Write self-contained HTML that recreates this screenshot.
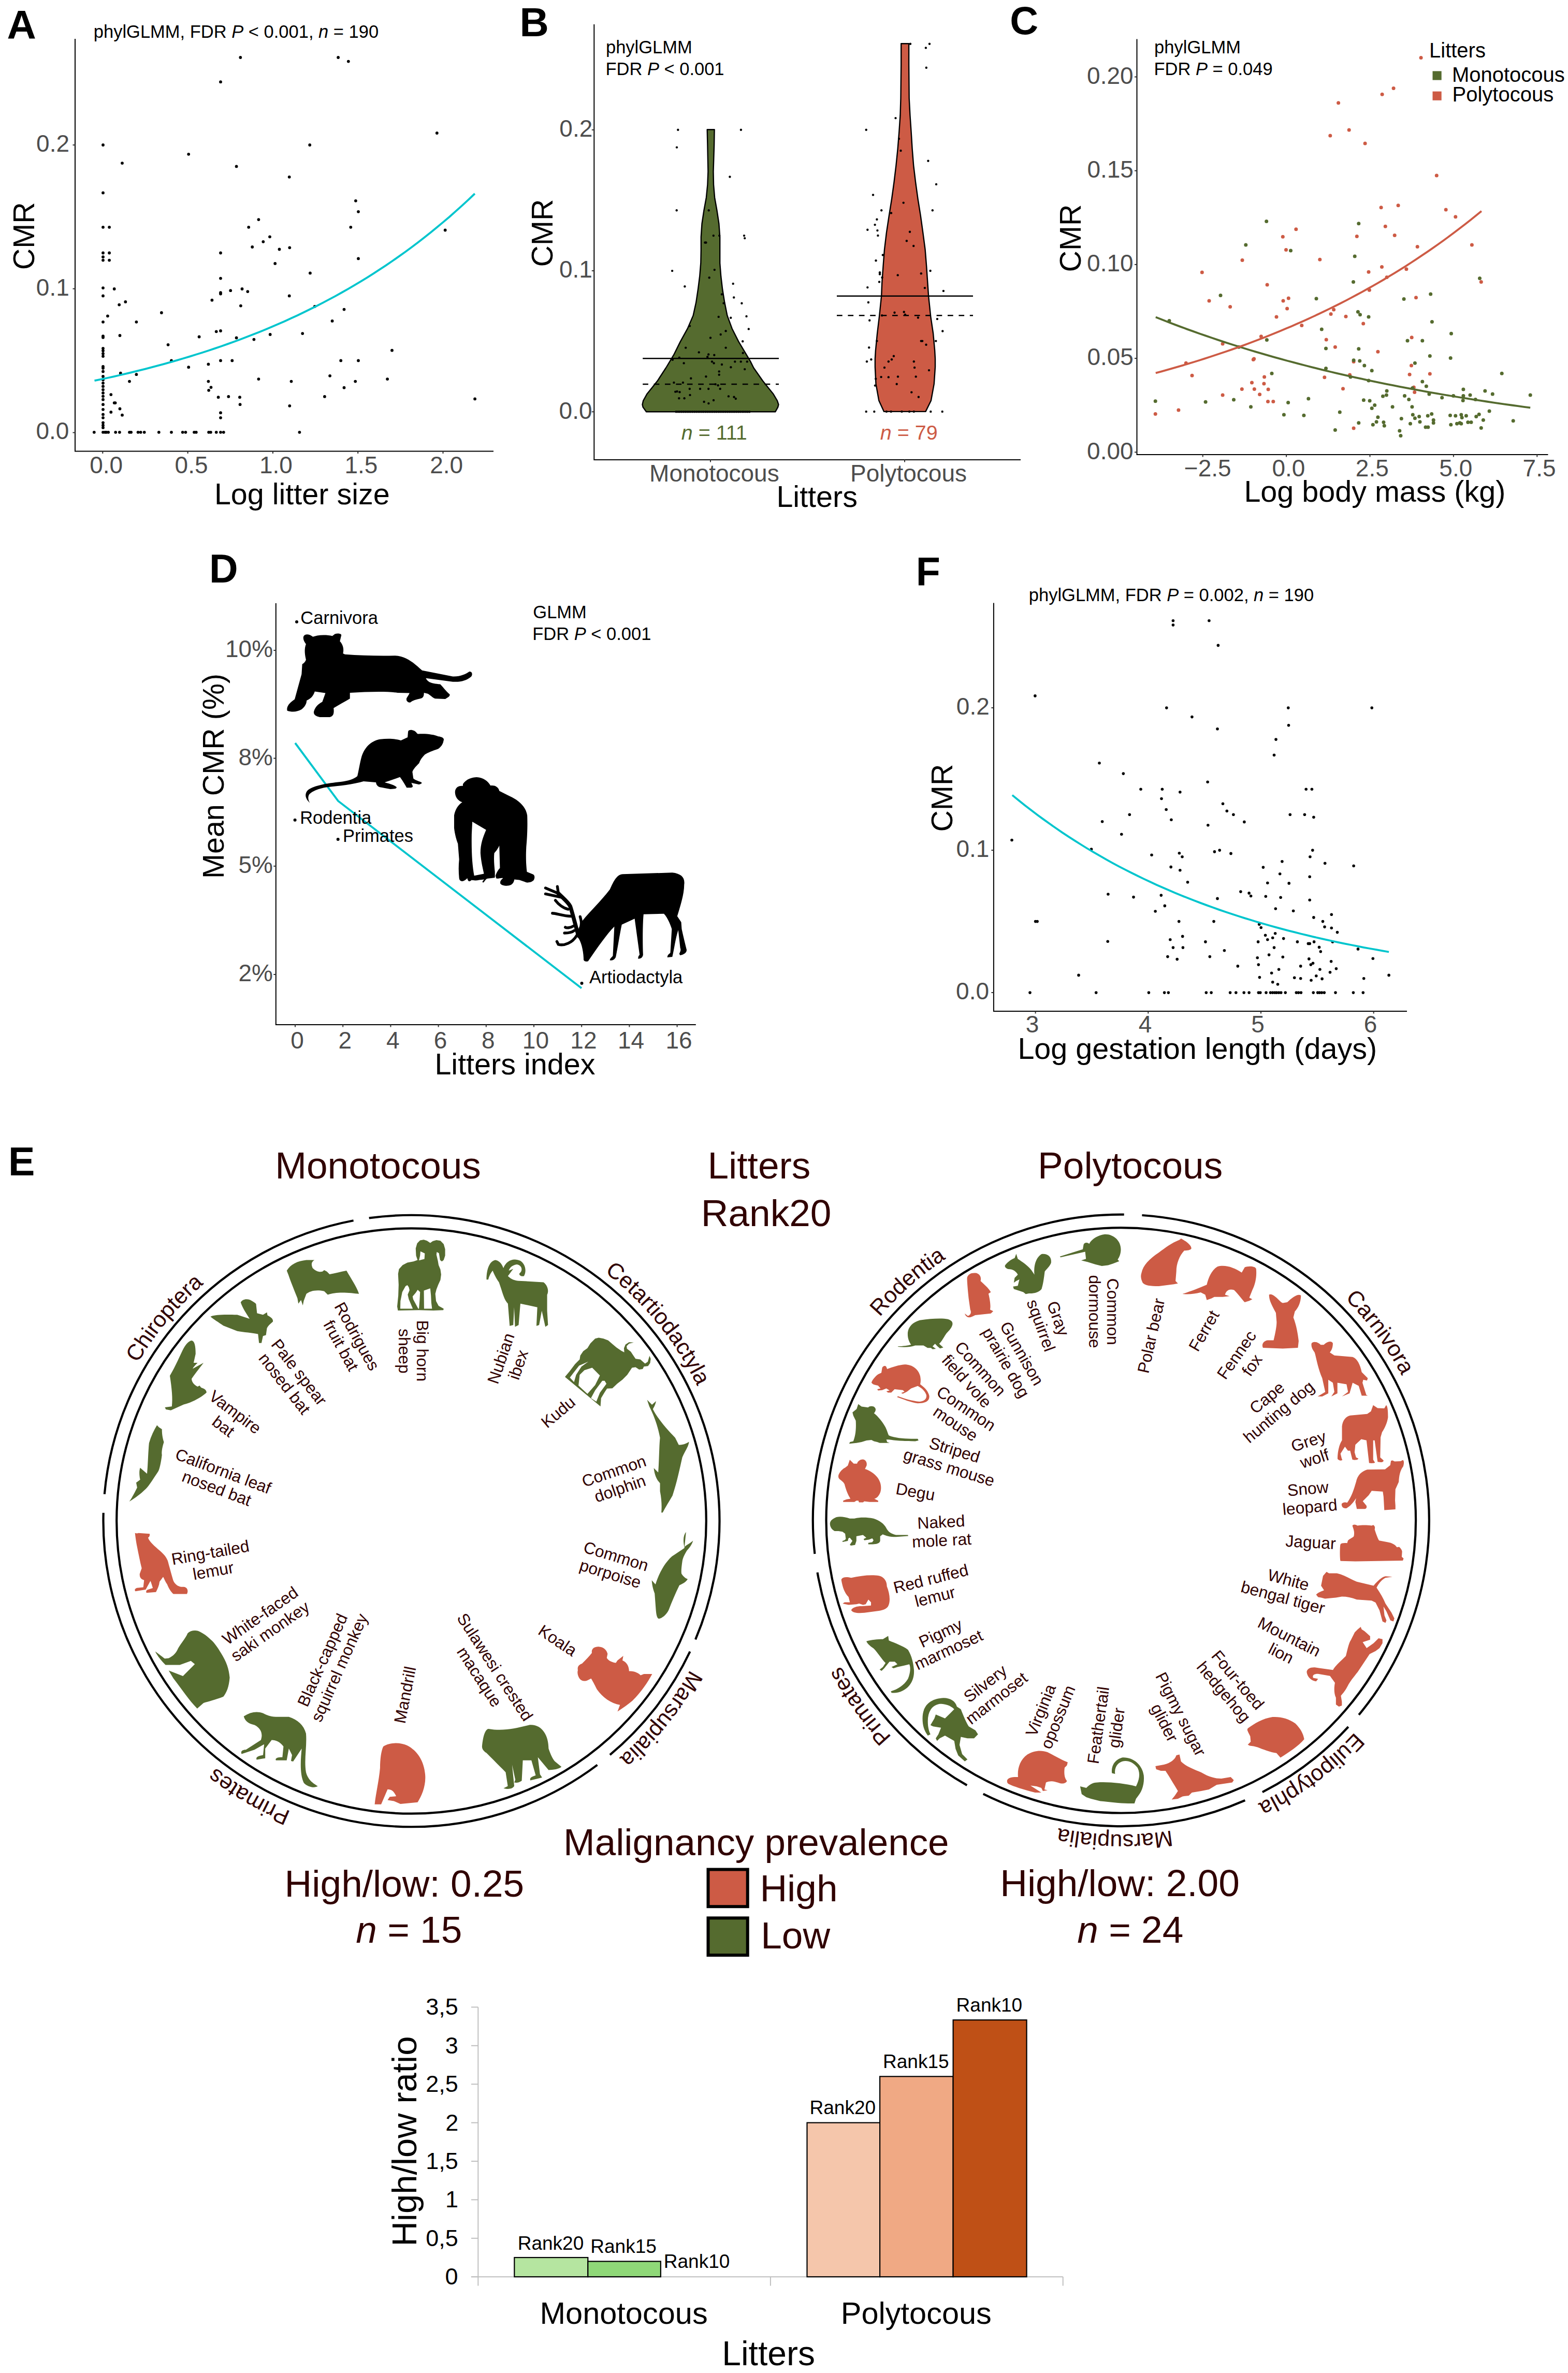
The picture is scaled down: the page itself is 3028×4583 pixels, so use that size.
<!DOCTYPE html>
<html><head><meta charset="utf-8"><style>html,body{margin:0;padding:0;background:#fff}svg{display:block}</style></head>
<body><svg width="3028" height="4583" viewBox="0 0 3028 4583" font-family="'Liberation Sans', sans-serif">
<rect width="3028" height="4583" fill="#fff"/>
<text x="13.6" y="75.0" font-size="78" font-weight="bold" >A</text>
<text x="180.8" y="73.3" font-size="34.5" >phylGLMM, FDR <tspan font-style="italic">P</tspan> &lt; 0.001, <tspan font-style="italic">n</tspan> = 190</text>
<path d="M145,75 V871.5 H953" fill="none" stroke="#000" stroke-width="2"/>
<path d="M140.5,835.5 H145" stroke="#333" stroke-width="2"/>
<text x="69.4" y="848.3" font-size="46" fill="#4D4D4D" >0.0</text>
<path d="M140.5,557.7 H145" stroke="#333" stroke-width="2"/>
<text x="69.8" y="570.5" font-size="46" fill="#4D4D4D" >0.1</text>
<path d="M140.5,280.0 H145" stroke="#333" stroke-width="2"/>
<text x="70.1" y="292.8" font-size="46" fill="#4D4D4D" >0.2</text>
<path d="M198.3,871.5 V876" stroke="#333" stroke-width="2"/>
<text x="173.2" y="914.2" font-size="46" fill="#4D4D4D" >0.0</text>
<path d="M362.6,871.5 V876" stroke="#333" stroke-width="2"/>
<text x="337.6" y="914.2" font-size="46" fill="#4D4D4D" >0.5</text>
<path d="M526.9,871.5 V876" stroke="#333" stroke-width="2"/>
<text x="501.0" y="914.2" font-size="46" fill="#4D4D4D" >1.0</text>
<path d="M691.2,871.5 V876" stroke="#333" stroke-width="2"/>
<text x="665.4" y="914.2" font-size="46" fill="#4D4D4D" >1.5</text>
<path d="M855.5,871.5 V876" stroke="#333" stroke-width="2"/>
<text x="830.2" y="914.2" font-size="46" fill="#4D4D4D" >2.0</text>
<text x="413.9" y="973.5" font-size="57.5" >Log litter size</text>
<g transform="translate(45.5,455.7) rotate(-90.00)"><text x="-65.5" y="20.1" font-size="57.5" >CMR</text></g>
<g fill="#000"><circle cx="464.3" cy="111.0" r="2.9"/><circle cx="653.1" cy="111.0" r="2.9"/><circle cx="672.8" cy="118.6" r="2.9"/><circle cx="426.0" cy="158.2" r="2.9"/><circle cx="199.0" cy="280.0" r="2.9"/><circle cx="364.2" cy="297.8" r="2.9"/><circle cx="236.0" cy="315.1" r="2.9"/><circle cx="456.6" cy="321.4" r="2.9"/><circle cx="598.2" cy="280.0" r="2.9"/><circle cx="843.8" cy="257.0" r="2.9"/><circle cx="558.7" cy="341.8" r="2.9"/><circle cx="199.0" cy="372.4" r="2.9"/><circle cx="686.9" cy="387.8" r="2.9"/><circle cx="692.0" cy="408.8" r="2.9"/><circle cx="199.0" cy="438.8" r="2.9"/><circle cx="211.1" cy="438.8" r="2.9"/><circle cx="499.4" cy="424.1" r="2.9"/><circle cx="480.2" cy="438.8" r="2.9"/><circle cx="677.3" cy="438.8" r="2.9"/><circle cx="859.7" cy="444.5" r="2.9"/><circle cx="521.0" cy="457.3" r="2.9"/><circle cx="508.3" cy="466.8" r="2.9"/><circle cx="487.2" cy="477.0" r="2.9"/><circle cx="559.3" cy="478.3" r="2.9"/><circle cx="539.5" cy="481.5" r="2.9"/><circle cx="199.0" cy="488.5" r="2.9"/><circle cx="211.1" cy="488.5" r="2.9"/><circle cx="199.0" cy="496.2" r="2.9"/><circle cx="199.0" cy="502.6" r="2.9"/><circle cx="211.1" cy="502.6" r="2.9"/><circle cx="426.0" cy="488.5" r="2.9"/><circle cx="531.2" cy="508.9" r="2.9"/><circle cx="692.0" cy="499.4" r="2.9"/><circle cx="598.9" cy="527.4" r="2.9"/><circle cx="199.0" cy="556.1" r="2.9"/><circle cx="220.7" cy="558.0" r="2.9"/><circle cx="199.0" cy="571.4" r="2.9"/><circle cx="426.0" cy="537.6" r="2.9"/><circle cx="445.2" cy="561.2" r="2.9"/><circle cx="426.0" cy="565.1" r="2.9"/><circle cx="426.0" cy="567.6" r="2.9"/><circle cx="467.5" cy="558.0" r="2.9"/><circle cx="478.3" cy="563.1" r="2.9"/><circle cx="558.7" cy="571.4" r="2.9"/><circle cx="242.3" cy="582.9" r="2.9"/><circle cx="230.2" cy="588.6" r="2.9"/><circle cx="464.9" cy="590.6" r="2.9"/><circle cx="409.4" cy="579.7" r="2.9"/><circle cx="607.8" cy="591.8" r="2.9"/><circle cx="664.5" cy="597.6" r="2.9"/><circle cx="311.9" cy="604.0" r="2.9"/><circle cx="207.9" cy="610.3" r="2.9"/><circle cx="263.4" cy="621.8" r="2.9"/><circle cx="199.0" cy="621.8" r="2.9"/><circle cx="641.6" cy="619.9" r="2.9"/><circle cx="417.7" cy="640.3" r="2.9"/><circle cx="426.0" cy="639.0" r="2.9"/><circle cx="199.0" cy="649.2" r="2.9"/><circle cx="199.0" cy="651.8" r="2.9"/><circle cx="231.5" cy="648.0" r="2.9"/><circle cx="384.6" cy="650.5" r="2.9"/><circle cx="456.6" cy="652.4" r="2.9"/><circle cx="490.4" cy="655.6" r="2.9"/><circle cx="521.7" cy="646.0" r="2.9"/><circle cx="584.2" cy="644.1" r="2.9"/><circle cx="324.6" cy="665.8" r="2.9"/><circle cx="199.0" cy="672.8" r="2.9"/><circle cx="199.0" cy="677.3" r="2.9"/><circle cx="199.0" cy="683.0" r="2.9"/><circle cx="199.0" cy="688.1" r="2.9"/><circle cx="757.0" cy="676.7" r="2.9"/><circle cx="331.0" cy="696.4" r="2.9"/><circle cx="402.4" cy="703.4" r="2.9"/><circle cx="426.0" cy="696.4" r="2.9"/><circle cx="448.3" cy="696.4" r="2.9"/><circle cx="658.2" cy="696.4" r="2.9"/><circle cx="692.0" cy="696.4" r="2.9"/><circle cx="364.2" cy="709.2" r="2.9"/><circle cx="199.0" cy="707.9" r="2.9"/><circle cx="199.0" cy="711.1" r="2.9"/><circle cx="199.0" cy="717.5" r="2.9"/><circle cx="199.0" cy="727.0" r="2.9"/><circle cx="232.8" cy="720.7" r="2.9"/><circle cx="263.4" cy="723.2" r="2.9"/><circle cx="499.4" cy="732.1" r="2.9"/><circle cx="637.1" cy="725.8" r="2.9"/><circle cx="748.1" cy="732.1" r="2.9"/><circle cx="199.0" cy="733.4" r="2.9"/><circle cx="199.0" cy="739.8" r="2.9"/><circle cx="199.0" cy="746.2" r="2.9"/><circle cx="199.0" cy="752.6" r="2.9"/><circle cx="199.0" cy="758.9" r="2.9"/><circle cx="199.0" cy="765.3" r="2.9"/><circle cx="250.0" cy="736.6" r="2.9"/><circle cx="402.4" cy="736.6" r="2.9"/><circle cx="407.5" cy="748.1" r="2.9"/><circle cx="403.1" cy="753.8" r="2.9"/><circle cx="562.5" cy="736.6" r="2.9"/><circle cx="686.2" cy="736.6" r="2.9"/><circle cx="664.5" cy="748.7" r="2.9"/><circle cx="214.3" cy="762.1" r="2.9"/><circle cx="421.6" cy="767.2" r="2.9"/><circle cx="441.3" cy="765.9" r="2.9"/><circle cx="463.0" cy="767.2" r="2.9"/><circle cx="626.9" cy="765.9" r="2.9"/><circle cx="917.1" cy="770.4" r="2.9"/><circle cx="199.0" cy="771.7" r="2.9"/><circle cx="199.0" cy="781.2" r="2.9"/><circle cx="199.0" cy="790.8" r="2.9"/><circle cx="199.0" cy="800.4" r="2.9"/><circle cx="199.0" cy="806.8" r="2.9"/><circle cx="199.0" cy="816.3" r="2.9"/><circle cx="220.7" cy="778.1" r="2.9"/><circle cx="222.6" cy="778.1" r="2.9"/><circle cx="463.6" cy="781.2" r="2.9"/><circle cx="559.3" cy="783.8" r="2.9"/><circle cx="231.5" cy="789.5" r="2.9"/><circle cx="214.3" cy="795.9" r="2.9"/><circle cx="236.0" cy="801.7" r="2.9"/><circle cx="426.0" cy="797.2" r="2.9"/><circle cx="426.0" cy="806.8" r="2.9"/><circle cx="199.0" cy="821.4" r="2.9"/><circle cx="199.0" cy="825.9" r="2.9"/><circle cx="181.8" cy="834.8" r="2.9"/><circle cx="199.0" cy="834.8" r="2.9"/><circle cx="202.8" cy="834.8" r="2.9"/><circle cx="205.4" cy="834.8" r="2.9"/><circle cx="209.2" cy="834.8" r="2.9"/><circle cx="223.2" cy="834.8" r="2.9"/><circle cx="230.9" cy="834.8" r="2.9"/><circle cx="250.0" cy="834.8" r="2.9"/><circle cx="253.2" cy="834.8" r="2.9"/><circle cx="266.6" cy="834.8" r="2.9"/><circle cx="271.7" cy="834.8" r="2.9"/><circle cx="278.7" cy="834.8" r="2.9"/><circle cx="306.8" cy="834.8" r="2.9"/><circle cx="331.0" cy="834.8" r="2.9"/><circle cx="352.7" cy="834.8" r="2.9"/><circle cx="358.4" cy="834.8" r="2.9"/><circle cx="375.0" cy="834.8" r="2.9"/><circle cx="378.8" cy="834.8" r="2.9"/><circle cx="403.1" cy="834.8" r="2.9"/><circle cx="406.9" cy="834.8" r="2.9"/><circle cx="417.7" cy="834.8" r="2.9"/><circle cx="426.0" cy="834.8" r="2.9"/><circle cx="431.8" cy="834.8" r="2.9"/><circle cx="578.4" cy="834.8" r="2.9"/></g>
<polyline points="182.5,735.2 194.8,732.6 207.0,730.0 219.2,727.3 231.5,724.5 243.7,721.6 256.0,718.7 268.2,715.7 280.5,712.6 292.7,709.4 304.9,706.2 317.2,702.8 329.4,699.4 341.7,695.9 353.9,692.3 366.1,688.6 378.4,684.8 390.6,681.0 402.9,677.0 415.1,672.9 427.3,668.7 439.6,664.4 451.8,660.0 464.1,655.5 476.3,650.8 488.5,646.1 500.8,641.2 513.0,636.2 525.3,631.1 537.5,625.8 549.7,620.4 562.0,614.8 574.2,609.2 586.5,603.3 598.7,597.3 610.9,591.2 623.2,584.9 635.4,578.4 647.7,571.8 659.9,565.0 672.1,558.1 684.4,550.9 696.6,543.6 708.9,536.1 721.1,528.3 733.3,520.4 745.6,512.3 757.8,504.0 770.1,495.4 782.3,486.7 794.5,477.7 806.8,468.5 819.0,459.0 831.3,449.3 843.5,439.3 855.7,429.1 868.0,418.7 880.2,407.9 892.5,396.9 904.7,385.6 916.9,374.0" fill="none" stroke="#00C5CD" stroke-width="3.8"/>
<text x="1003.5" y="69.5" font-size="78" font-weight="bold" >B</text>
<text x="1170.0" y="102.7" font-size="34.5" >phylGLMM</text>
<text x="1169.4" y="145.1" font-size="34.5" >FDR <tspan font-style="italic">P</tspan> &lt; 0.001</text>
<path d="M1147.3,47 V888 H1971" fill="none" stroke="#000" stroke-width="2"/>
<path d="M1142.8,795.3 H1147" stroke="#333" stroke-width="2"/>
<text x="1079.6" y="808.7" font-size="46" fill="#4D4D4D" >0.0</text>
<path d="M1142.8,523.0 H1147" stroke="#333" stroke-width="2"/>
<text x="1080.0" y="536.4" font-size="46" fill="#4D4D4D" >0.1</text>
<path d="M1142.8,250.8 H1147" stroke="#333" stroke-width="2"/>
<text x="1080.3" y="264.2" font-size="46" fill="#4D4D4D" >0.2</text>
<path d="M1372,888 V892.5" stroke="#333" stroke-width="2"/>
<text x="1254.1" y="929.5" font-size="46" fill="#4D4D4D" >Monotocous</text>
<path d="M1747,888 V892.5" stroke="#333" stroke-width="2"/>
<text x="1642.0" y="929.5" font-size="46" fill="#4D4D4D" >Polytocous</text>
<text x="1499.4" y="979.0" font-size="57.5" >Litters</text>
<g transform="translate(1046.8,450.0) rotate(-90.00)"><text x="-65.5" y="20.1" font-size="57.5" >CMR</text></g>
<path d="M1379.6,250.2 L1379.1,280.6 L1378.3,305.9 L1377.5,331.2 L1378.0,356.5 L1380.1,381.7 L1384.6,407.0 L1388.4,432.3 L1390.2,457.6 L1390.2,482.9 L1390.2,508.2 L1392.2,533.5 L1395.2,558.8 L1399.3,584.1 L1404.4,609.4 L1413.7,634.7 L1426.4,659.9 L1441.5,685.2 L1449.1,697.9 L1455.4,710.5 L1473.1,735.8 L1483.3,748.5 L1493.4,761.1 L1501.0,773.8 L1503.5,781.3 L1502.2,786.4 L1497.2,795.3 L1248.1,795.3 L1241.7,786.4 L1240.5,781.3 L1242.2,773.8 L1249.3,761.1 L1259.4,748.5 L1269.5,735.8 L1286.0,710.5 L1293.6,697.9 L1301.2,685.2 L1313.8,659.9 L1327.7,634.7 L1338.6,609.4 L1344.2,584.1 L1348.0,558.8 L1351.2,533.5 L1353.3,508.2 L1353.8,482.9 L1353.8,457.6 L1355.5,432.3 L1359.3,407.0 L1363.9,381.7 L1366.4,356.5 L1367.4,331.2 L1366.9,305.9 L1366.4,280.6 L1365.7,250.2 Z" fill="#556B2F" stroke="#000" stroke-width="2.4" stroke-linejoin="round"/>
<path d="M1755.1,84.3 L1755.1,124.9 L1755.7,189.8 L1757.4,222.2 L1759.6,254.7 L1761.6,287.1 L1764.2,319.6 L1768.1,352.0 L1772.6,384.5 L1777.8,416.9 L1782.3,449.4 L1786.6,481.8 L1789.2,514.3 L1791.4,546.7 L1793.1,571.7 L1797.3,611.6 L1802.1,644.0 L1805.1,676.5 L1806.0,692.7 L1806.0,708.9 L1803.8,741.4 L1797.9,773.8 L1787.5,794.9 L1707.1,794.9 L1697.3,773.8 L1691.5,741.4 L1689.9,708.9 L1689.9,692.7 L1690.9,676.5 L1694.1,644.0 L1698.0,611.6 L1702.2,571.7 L1703.2,546.7 L1705.5,514.3 L1708.0,481.8 L1711.9,449.4 L1716.8,416.9 L1722.0,384.5 L1726.5,352.0 L1730.4,319.6 L1733.7,287.1 L1736.3,254.7 L1738.5,222.2 L1739.5,189.8 L1740.2,124.9 L1740.2,84.3 Z" fill="#CD5B45" stroke="#000" stroke-width="2.4" stroke-linejoin="round"/>
<g fill="#000"><circle cx="1309.3" cy="250.7" r="2.2"/><circle cx="1430.9" cy="250.7" r="2.2"/><circle cx="1307.0" cy="284.6" r="2.2"/><circle cx="1409.4" cy="341.5" r="2.2"/><circle cx="1306.7" cy="406.3" r="2.2"/><circle cx="1368.7" cy="406.3" r="2.2"/><circle cx="1377.8" cy="455.1" r="2.2"/><circle cx="1389.2" cy="455.1" r="2.2"/><circle cx="1437.0" cy="455.1" r="2.2"/><circle cx="1438.2" cy="460.1" r="2.2"/><circle cx="1361.4" cy="468.5" r="2.2"/><circle cx="1363.4" cy="468.5" r="2.2"/><circle cx="1298.1" cy="523.1" r="2.2"/><circle cx="1379.8" cy="521.1" r="2.2"/><circle cx="1369.7" cy="536.3" r="2.2"/><circle cx="1415.7" cy="547.9" r="2.2"/><circle cx="1322.4" cy="553.2" r="2.2"/><circle cx="1394.0" cy="568.4" r="2.2"/><circle cx="1417.2" cy="574.5" r="2.2"/><circle cx="1397.5" cy="585.6" r="2.2"/><circle cx="1432.4" cy="585.8" r="2.2"/><circle cx="1387.7" cy="611.9" r="2.2"/><circle cx="1411.2" cy="613.7" r="2.2"/><circle cx="1441.5" cy="610.9" r="2.2"/><circle cx="1332.0" cy="629.6" r="2.2"/><circle cx="1445.8" cy="635.4" r="2.2"/><circle cx="1401.6" cy="639.2" r="2.2"/><circle cx="1391.7" cy="646.0" r="2.2"/><circle cx="1372.0" cy="652.4" r="2.2"/><circle cx="1434.2" cy="659.2" r="2.2"/><circle cx="1324.2" cy="671.6" r="2.2"/><circle cx="1401.6" cy="671.6" r="2.2"/><circle cx="1349.7" cy="680.4" r="2.2"/><circle cx="1368.2" cy="684.5" r="2.2"/><circle cx="1379.3" cy="685.7" r="2.2"/><circle cx="1434.7" cy="681.7" r="2.2"/><circle cx="1311.8" cy="690.8" r="2.2"/><circle cx="1366.2" cy="689.3" r="2.2"/><circle cx="1298.9" cy="694.8" r="2.2"/><circle cx="1320.6" cy="701.4" r="2.2"/><circle cx="1375.0" cy="698.4" r="2.2"/><circle cx="1378.6" cy="701.4" r="2.2"/><circle cx="1394.0" cy="704.0" r="2.2"/><circle cx="1419.3" cy="698.4" r="2.2"/><circle cx="1430.7" cy="698.4" r="2.2"/><circle cx="1442.8" cy="698.4" r="2.2"/><circle cx="1411.4" cy="709.3" r="2.2"/><circle cx="1438.2" cy="713.1" r="2.2"/><circle cx="1388.7" cy="717.4" r="2.2"/><circle cx="1388.7" cy="723.7" r="2.2"/><circle cx="1334.3" cy="730.8" r="2.2"/><circle cx="1363.4" cy="727.2" r="2.2"/><circle cx="1301.4" cy="738.9" r="2.2"/><circle cx="1318.9" cy="738.9" r="2.2"/><circle cx="1381.6" cy="742.1" r="2.2"/><circle cx="1386.6" cy="744.2" r="2.2"/><circle cx="1331.8" cy="751.0" r="2.2"/><circle cx="1352.0" cy="751.0" r="2.2"/><circle cx="1368.2" cy="751.0" r="2.2"/><circle cx="1390.7" cy="751.0" r="2.2"/><circle cx="1304.2" cy="756.6" r="2.2"/><circle cx="1307.5" cy="756.0" r="2.2"/><circle cx="1312.5" cy="757.3" r="2.2"/><circle cx="1332.5" cy="762.9" r="2.2"/><circle cx="1406.9" cy="765.4" r="2.2"/><circle cx="1417.5" cy="766.7" r="2.2"/><circle cx="1420.8" cy="770.0" r="2.2"/><circle cx="1311.3" cy="769.2" r="2.2"/><circle cx="1321.6" cy="769.2" r="2.2"/><circle cx="1378.0" cy="773.0" r="2.2"/><circle cx="1359.6" cy="776.0" r="2.2"/><circle cx="1368.4" cy="779.1" r="2.2"/><circle cx="1305.7" cy="795.3" r="2.2"/><circle cx="1309.3" cy="795.3" r="2.2"/><circle cx="1312.8" cy="795.3" r="2.2"/><circle cx="1316.3" cy="795.3" r="2.2"/><circle cx="1319.9" cy="795.3" r="2.2"/><circle cx="1323.4" cy="795.3" r="2.2"/><circle cx="1327.0" cy="795.3" r="2.2"/><circle cx="1330.5" cy="795.3" r="2.2"/><circle cx="1334.0" cy="795.3" r="2.2"/><circle cx="1337.6" cy="795.3" r="2.2"/><circle cx="1341.1" cy="795.3" r="2.2"/><circle cx="1344.7" cy="795.3" r="2.2"/><circle cx="1348.2" cy="795.3" r="2.2"/><circle cx="1351.7" cy="795.3" r="2.2"/><circle cx="1355.3" cy="795.3" r="2.2"/><circle cx="1358.8" cy="795.3" r="2.2"/><circle cx="1362.4" cy="795.3" r="2.2"/><circle cx="1365.9" cy="795.3" r="2.2"/><circle cx="1369.4" cy="795.3" r="2.2"/><circle cx="1373.0" cy="795.3" r="2.2"/><circle cx="1376.5" cy="795.3" r="2.2"/><circle cx="1380.1" cy="795.3" r="2.2"/><circle cx="1383.6" cy="795.3" r="2.2"/><circle cx="1387.2" cy="795.3" r="2.2"/><circle cx="1390.7" cy="795.3" r="2.2"/><circle cx="1394.2" cy="795.3" r="2.2"/><circle cx="1397.8" cy="795.3" r="2.2"/><circle cx="1401.3" cy="795.3" r="2.2"/><circle cx="1404.9" cy="795.3" r="2.2"/><circle cx="1408.4" cy="795.3" r="2.2"/><circle cx="1411.9" cy="795.3" r="2.2"/><circle cx="1415.5" cy="795.3" r="2.2"/><circle cx="1419.0" cy="795.3" r="2.2"/><circle cx="1422.6" cy="795.3" r="2.2"/><circle cx="1426.1" cy="795.3" r="2.2"/><circle cx="1429.6" cy="795.3" r="2.2"/><circle cx="1433.2" cy="795.3" r="2.2"/><circle cx="1436.7" cy="795.3" r="2.2"/><circle cx="1440.3" cy="795.3" r="2.2"/><circle cx="1443.8" cy="795.3" r="2.2"/><circle cx="1447.3" cy="795.3" r="2.2"/><circle cx="1758.0" cy="84.7" r="2.2"/><circle cx="1795.0" cy="84.7" r="2.2"/><circle cx="1787.9" cy="92.4" r="2.2"/><circle cx="1788.8" cy="130.7" r="2.2"/><circle cx="1729.5" cy="228.1" r="2.2"/><circle cx="1672.7" cy="250.8" r="2.2"/><circle cx="1736.0" cy="268.0" r="2.2"/><circle cx="1739.5" cy="291.0" r="2.2"/><circle cx="1792.4" cy="310.8" r="2.2"/><circle cx="1808.0" cy="355.9" r="2.2"/><circle cx="1686.0" cy="376.4" r="2.2"/><circle cx="1744.7" cy="391.6" r="2.2"/><circle cx="1702.2" cy="406.2" r="2.2"/><circle cx="1800.8" cy="406.2" r="2.2"/><circle cx="1721.0" cy="411.4" r="2.2"/><circle cx="1693.4" cy="423.7" r="2.2"/><circle cx="1689.6" cy="434.1" r="2.2"/><circle cx="1675.3" cy="443.8" r="2.2"/><circle cx="1694.4" cy="445.1" r="2.2"/><circle cx="1695.4" cy="454.9" r="2.2"/><circle cx="1757.0" cy="447.7" r="2.2"/><circle cx="1750.9" cy="465.3" r="2.2"/><circle cx="1764.2" cy="475.0" r="2.2"/><circle cx="1704.8" cy="492.5" r="2.2"/><circle cx="1691.5" cy="503.2" r="2.2"/><circle cx="1699.0" cy="526.3" r="2.2"/><circle cx="1699.0" cy="529.5" r="2.2"/><circle cx="1733.7" cy="531.4" r="2.2"/><circle cx="1778.8" cy="528.2" r="2.2"/><circle cx="1796.6" cy="523.0" r="2.2"/><circle cx="1703.5" cy="536.0" r="2.2"/><circle cx="1698.0" cy="544.4" r="2.2"/><circle cx="1675.3" cy="555.1" r="2.2"/><circle cx="1785.9" cy="556.1" r="2.2"/><circle cx="1821.9" cy="561.9" r="2.2"/><circle cx="1676.9" cy="584.0" r="2.2"/><circle cx="1727.5" cy="603.8" r="2.2"/><circle cx="1745.7" cy="602.5" r="2.2"/><circle cx="1748.0" cy="607.7" r="2.2"/><circle cx="1703.2" cy="609.3" r="2.2"/><circle cx="1772.9" cy="613.5" r="2.2"/><circle cx="1679.2" cy="618.7" r="2.2"/><circle cx="1809.9" cy="616.1" r="2.2"/><circle cx="1820.3" cy="639.5" r="2.2"/><circle cx="1693.4" cy="658.6" r="2.2"/><circle cx="1778.8" cy="658.6" r="2.2"/><circle cx="1781.1" cy="658.6" r="2.2"/><circle cx="1788.5" cy="665.8" r="2.2"/><circle cx="1807.3" cy="658.6" r="2.2"/><circle cx="1678.2" cy="671.3" r="2.2"/><circle cx="1725.9" cy="687.8" r="2.2"/><circle cx="1722.0" cy="694.3" r="2.2"/><circle cx="1674.0" cy="698.2" r="2.2"/><circle cx="1682.4" cy="694.3" r="2.2"/><circle cx="1715.8" cy="698.2" r="2.2"/><circle cx="1764.8" cy="698.2" r="2.2"/><circle cx="1708.0" cy="709.9" r="2.2"/><circle cx="1766.1" cy="709.9" r="2.2"/><circle cx="1794.0" cy="715.1" r="2.2"/><circle cx="1691.2" cy="731.6" r="2.2"/><circle cx="1701.6" cy="728.1" r="2.2"/><circle cx="1715.8" cy="728.4" r="2.2"/><circle cx="1734.0" cy="727.4" r="2.2"/><circle cx="1768.7" cy="727.4" r="2.2"/><circle cx="1689.9" cy="744.6" r="2.2"/><circle cx="1731.7" cy="741.7" r="2.2"/><circle cx="1760.3" cy="757.6" r="2.2"/><circle cx="1773.9" cy="766.7" r="2.2"/><circle cx="1672.7" cy="794.9" r="2.2"/><circle cx="1688.3" cy="794.9" r="2.2"/><circle cx="1711.9" cy="794.9" r="2.2"/><circle cx="1720.7" cy="794.9" r="2.2"/><circle cx="1741.5" cy="794.9" r="2.2"/><circle cx="1756.1" cy="794.9" r="2.2"/><circle cx="1764.8" cy="794.9" r="2.2"/><circle cx="1797.3" cy="794.9" r="2.2"/><circle cx="1819.7" cy="794.9" r="2.2"/></g>
<path d="M1241.2,692.3 H1504 M1616,571.7 H1879" stroke="#000" stroke-width="2.4"/>
<path d="M1241.2,742 H1504 M1616,609.3 H1879" stroke="#000" stroke-width="2.4" stroke-dasharray="10.7 10.7"/>
<text x="1315.7" y="849.4" font-size="39.5" fill="#556B2F" ><tspan font-style="italic">n</tspan> = 111</text>
<text x="1699.8" y="849.4" font-size="39.5" fill="#CD5B45" ><tspan font-style="italic">n</tspan> = 79</text>
<text x="1950.2" y="66.3" font-size="76" font-weight="bold" >C</text>
<text x="2229.1" y="102.7" font-size="34.5" >phylGLMM</text>
<text x="2228.5" y="145.1" font-size="34.5" >FDR <tspan font-style="italic">P</tspan> = 0.049</text>
<path d="M2195.5,75.6 V878 H2989.5" fill="none" stroke="#000" stroke-width="2"/>
<path d="M2191,873.3 H2195.5" stroke="#333" stroke-width="2"/>
<text x="2099.1" y="886.6" font-size="46" fill="#4D4D4D" >0.00</text>
<path d="M2191,692.1 H2195.5" stroke="#333" stroke-width="2"/>
<text x="2099.4" y="705.4" font-size="46" fill="#4D4D4D" >0.05</text>
<path d="M2191,510.9 H2195.5" stroke="#333" stroke-width="2"/>
<text x="2099.1" y="524.2" font-size="46" fill="#4D4D4D" >0.10</text>
<path d="M2191,329.7 H2195.5" stroke="#333" stroke-width="2"/>
<text x="2099.4" y="343.0" font-size="46" fill="#4D4D4D" >0.15</text>
<path d="M2191,148.5 H2195.5" stroke="#333" stroke-width="2"/>
<text x="2099.1" y="161.8" font-size="46" fill="#4D4D4D" >0.20</text>
<path d="M2322.7,878 V882.5" stroke="#333" stroke-width="2"/>
<text x="2286.8" y="919.5" font-size="46" fill="#4D4D4D" >−2.5</text>
<path d="M2484.1,878 V882.5" stroke="#333" stroke-width="2"/>
<text x="2456.5" y="919.5" font-size="46" fill="#4D4D4D" >0.0</text>
<path d="M2645.5,878 V882.5" stroke="#333" stroke-width="2"/>
<text x="2617.8" y="919.5" font-size="46" fill="#4D4D4D" >2.5</text>
<path d="M2806.9,878 V882.5" stroke="#333" stroke-width="2"/>
<text x="2779.3" y="919.5" font-size="46" fill="#4D4D4D" >5.0</text>
<path d="M2968.3,878 V882.5" stroke="#333" stroke-width="2"/>
<text x="2940.6" y="919.5" font-size="46" fill="#4D4D4D" >7.5</text>
<text x="2402.4" y="969.0" font-size="57.5" >Log body mass (kg)</text>
<g transform="translate(2066.9,460.0) rotate(-90.00)"><text x="-65.5" y="20.1" font-size="57.5" >CMR</text></g>
<text x="2760.0" y="111.1" font-size="40" >Litters</text>
<rect x="2766.5" y="137.4" width="17.2" height="17.2" fill="#556B2F"/>
<rect x="2766.5" y="176.6" width="17.2" height="17.2" fill="#CD5B45"/>
<text x="2803.9" y="158.4" font-size="40" >Monotocous</text>
<text x="2804.5" y="196.4" font-size="40" >Polytocous</text>
<g fill="#CD5B45"><circle cx="2744.1" cy="111.4" r="3.5"/><circle cx="2691.1" cy="170.5" r="3.5"/><circle cx="2669.1" cy="182.2" r="3.5"/><circle cx="2584.6" cy="198.7" r="3.5"/><circle cx="2568.8" cy="261.9" r="3.5"/><circle cx="2605.2" cy="250.9" r="3.5"/><circle cx="2636.1" cy="277.1" r="3.5"/><circle cx="2774.3" cy="338.9" r="3.5"/><circle cx="2792.2" cy="405.0" r="3.5"/><circle cx="2810.8" cy="418.7" r="3.5"/><circle cx="2667.1" cy="400.8" r="3.5"/><circle cx="2700.1" cy="396.7" r="3.5"/><circle cx="2675.3" cy="437.3" r="3.5"/><circle cx="2693.2" cy="454.5" r="3.5"/><circle cx="2620.3" cy="456.5" r="3.5"/><circle cx="2737.2" cy="476.5" r="3.5"/><circle cx="2842.4" cy="473.0" r="3.5"/><circle cx="2502.8" cy="442.8" r="3.5"/><circle cx="2477.3" cy="457.2" r="3.5"/><circle cx="2483.5" cy="482.6" r="3.5"/><circle cx="2548.8" cy="501.2" r="3.5"/><circle cx="2399.0" cy="502.6" r="3.5"/><circle cx="2643.0" cy="525.3" r="3.5"/><circle cx="2668.5" cy="515.6" r="3.5"/><circle cx="2715.9" cy="519.8" r="3.5"/><circle cx="2321.3" cy="526.0" r="3.5"/><circle cx="2447.1" cy="550.0" r="3.5"/><circle cx="2860.3" cy="544.5" r="3.5"/><circle cx="2335.0" cy="581.0" r="3.5"/><circle cx="2375.6" cy="592.6" r="3.5"/><circle cx="2488.3" cy="576.1" r="3.5"/><circle cx="2478.0" cy="581.0" r="3.5"/><circle cx="2734.5" cy="574.8" r="3.5"/><circle cx="2485.6" cy="596.1" r="3.5"/><circle cx="2465.0" cy="611.9" r="3.5"/><circle cx="2575.6" cy="598.1" r="3.5"/><circle cx="2570.1" cy="606.4" r="3.5"/><circle cx="2599.0" cy="611.2" r="3.5"/><circle cx="2513.8" cy="628.4" r="3.5"/><circle cx="2632.7" cy="625.0" r="3.5"/><circle cx="2644.4" cy="560.3" r="3.5"/><circle cx="2678.1" cy="535.6" r="3.5"/><circle cx="2726.2" cy="651.8" r="3.5"/><circle cx="2435.4" cy="649.7" r="3.5"/><circle cx="2361.1" cy="664.1" r="3.5"/><circle cx="2561.2" cy="655.9" r="3.5"/><circle cx="2578.4" cy="670.3" r="3.5"/><circle cx="2660.9" cy="679.3" r="3.5"/><circle cx="2614.1" cy="698.5" r="3.5"/><circle cx="2725.5" cy="706.1" r="3.5"/><circle cx="2761.3" cy="721.9" r="3.5"/><circle cx="2722.1" cy="723.3" r="3.5"/><circle cx="2421.6" cy="693.0" r="3.5"/><circle cx="2420.3" cy="694.4" r="3.5"/><circle cx="2290.3" cy="701.3" r="3.5"/><circle cx="2302.0" cy="725.3" r="3.5"/><circle cx="2557.8" cy="728.8" r="3.5"/><circle cx="2441.6" cy="728.1" r="3.5"/><circle cx="2417.5" cy="739.1" r="3.5"/><circle cx="2440.9" cy="741.1" r="3.5"/><circle cx="2606.6" cy="724.0" r="3.5"/><circle cx="2593.5" cy="750.8" r="3.5"/><circle cx="2730.3" cy="748.0" r="3.5"/><circle cx="2731.7" cy="757.6" r="3.5"/><circle cx="2361.1" cy="763.1" r="3.5"/><circle cx="2398.3" cy="751.5" r="3.5"/><circle cx="2422.3" cy="751.5" r="3.5"/><circle cx="2432.6" cy="761.8" r="3.5"/><circle cx="2449.1" cy="752.1" r="3.5"/><circle cx="2448.5" cy="775.5" r="3.5"/><circle cx="2458.8" cy="775.5" r="3.5"/><circle cx="2231.2" cy="799.6" r="3.5"/><circle cx="2275.9" cy="792.0" r="3.5"/><circle cx="2614.1" cy="827.1" r="3.5"/></g>
<g fill="#556B2F"><circle cx="2445.7" cy="427.6" r="3.5"/><circle cx="2405.8" cy="473.0" r="3.5"/><circle cx="2492.5" cy="484.0" r="3.5"/><circle cx="2616.2" cy="495.0" r="3.5"/><circle cx="2613.5" cy="544.5" r="3.5"/><circle cx="2623.8" cy="431.8" r="3.5"/><circle cx="2258.0" cy="619.5" r="3.5"/><circle cx="2357.0" cy="570.6" r="3.5"/><circle cx="2542.0" cy="576.8" r="3.5"/><circle cx="2711.1" cy="577.5" r="3.5"/><circle cx="2762.7" cy="567.9" r="3.5"/><circle cx="2857.5" cy="537.6" r="3.5"/><circle cx="2622.4" cy="602.3" r="3.5"/><circle cx="2626.5" cy="607.8" r="3.5"/><circle cx="2643.0" cy="611.9" r="3.5"/><circle cx="2552.3" cy="636.0" r="3.5"/><circle cx="2765.4" cy="621.5" r="3.5"/><circle cx="2802.5" cy="644.2" r="3.5"/><circle cx="2446.4" cy="656.6" r="3.5"/><circle cx="2392.1" cy="670.3" r="3.5"/><circle cx="2560.5" cy="673.1" r="3.5"/><circle cx="2623.8" cy="673.8" r="3.5"/><circle cx="2718.0" cy="658.0" r="3.5"/><circle cx="2746.8" cy="658.0" r="3.5"/><circle cx="2801.2" cy="691.6" r="3.5"/><circle cx="2761.3" cy="687.5" r="3.5"/><circle cx="2614.1" cy="695.8" r="3.5"/><circle cx="2625.8" cy="697.1" r="3.5"/><circle cx="2732.4" cy="701.3" r="3.5"/><circle cx="2560.5" cy="711.6" r="3.5"/><circle cx="2634.8" cy="706.1" r="3.5"/><circle cx="2649.2" cy="715.7" r="3.5"/><circle cx="2456.0" cy="721.2" r="3.5"/><circle cx="2900.2" cy="721.2" r="3.5"/><circle cx="2608.0" cy="728.1" r="3.5"/><circle cx="2643.0" cy="735.0" r="3.5"/><circle cx="2746.8" cy="737.0" r="3.5"/><circle cx="2754.4" cy="746.0" r="3.5"/><circle cx="2727.6" cy="749.4" r="3.5"/><circle cx="2825.9" cy="752.1" r="3.5"/><circle cx="2867.8" cy="754.9" r="3.5"/><circle cx="2882.3" cy="761.1" r="3.5"/><circle cx="2955.2" cy="763.1" r="3.5"/><circle cx="2678.1" cy="754.9" r="3.5"/><circle cx="2677.4" cy="763.1" r="3.5"/><circle cx="2759.9" cy="761.1" r="3.5"/><circle cx="2784.7" cy="768.0" r="3.5"/><circle cx="2806.7" cy="764.5" r="3.5"/><circle cx="2825.9" cy="764.5" r="3.5"/><circle cx="2839.0" cy="763.1" r="3.5"/><circle cx="2849.3" cy="771.4" r="3.5"/><circle cx="2825.2" cy="773.5" r="3.5"/><circle cx="2712.5" cy="764.5" r="3.5"/><circle cx="2720.7" cy="771.4" r="3.5"/><circle cx="2670.5" cy="765.2" r="3.5"/><circle cx="2633.4" cy="772.8" r="3.5"/><circle cx="2645.1" cy="774.1" r="3.5"/><circle cx="2654.7" cy="782.4" r="3.5"/><circle cx="2689.1" cy="785.8" r="3.5"/><circle cx="2726.9" cy="785.8" r="3.5"/><circle cx="2231.2" cy="774.8" r="3.5"/><circle cx="2328.1" cy="776.2" r="3.5"/><circle cx="2382.5" cy="772.1" r="3.5"/><circle cx="2415.5" cy="785.8" r="3.5"/><circle cx="2487.6" cy="777.6" r="3.5"/><circle cx="2526.8" cy="770.0" r="3.5"/><circle cx="2479.4" cy="801.0" r="3.5"/><circle cx="2517.9" cy="802.3" r="3.5"/><circle cx="2649.2" cy="788.6" r="3.5"/><circle cx="2587.3" cy="796.1" r="3.5"/><circle cx="2706.3" cy="808.5" r="3.5"/><circle cx="2728.3" cy="801.0" r="3.5"/><circle cx="2740.6" cy="804.4" r="3.5"/><circle cx="2757.2" cy="803.0" r="3.5"/><circle cx="2764.7" cy="799.6" r="3.5"/><circle cx="2768.2" cy="811.3" r="3.5"/><circle cx="2800.5" cy="802.3" r="3.5"/><circle cx="2810.8" cy="803.0" r="3.5"/><circle cx="2821.8" cy="801.0" r="3.5"/><circle cx="2831.4" cy="803.0" r="3.5"/><circle cx="2850.7" cy="804.4" r="3.5"/><circle cx="2856.2" cy="800.3" r="3.5"/><circle cx="2864.4" cy="811.3" r="3.5"/><circle cx="2876.1" cy="794.1" r="3.5"/><circle cx="2922.2" cy="812.7" r="3.5"/><circle cx="2660.9" cy="805.8" r="3.5"/><circle cx="2623.8" cy="816.8" r="3.5"/><circle cx="2651.3" cy="820.2" r="3.5"/><circle cx="2658.1" cy="814.7" r="3.5"/><circle cx="2673.3" cy="822.3" r="3.5"/><circle cx="2742.0" cy="814.7" r="3.5"/><circle cx="2753.0" cy="825.0" r="3.5"/><circle cx="2757.8" cy="825.0" r="3.5"/><circle cx="2768.2" cy="816.8" r="3.5"/><circle cx="2801.8" cy="820.2" r="3.5"/><circle cx="2813.5" cy="818.2" r="3.5"/><circle cx="2819.0" cy="816.8" r="3.5"/><circle cx="2821.8" cy="818.2" r="3.5"/><circle cx="2834.8" cy="815.4" r="3.5"/><circle cx="2841.0" cy="815.4" r="3.5"/><circle cx="2860.3" cy="826.4" r="3.5"/><circle cx="2702.8" cy="831.9" r="3.5"/><circle cx="2704.9" cy="841.5" r="3.5"/><circle cx="2723.5" cy="818.2" r="3.5"/><circle cx="2671.9" cy="815.4" r="3.5"/><circle cx="2578.4" cy="830.5" r="3.5"/><circle cx="2732.4" cy="807.8" r="3.5"/><circle cx="2823.2" cy="806.5" r="3.5"/></g>
<polyline points="2231.8,612.5 2243.9,617.3 2255.9,622.0 2268.0,626.6 2280.0,631.1 2292.1,635.6 2304.1,639.9 2316.2,644.2 2328.3,648.4 2340.3,652.5 2352.4,656.6 2364.4,660.6 2376.5,664.5 2388.5,668.3 2400.6,672.0 2412.6,675.7 2424.7,679.4 2436.8,682.9 2448.8,686.4 2460.9,689.8 2472.9,693.2 2485.0,696.5 2497.0,699.7 2509.1,702.9 2521.2,706.0 2533.2,709.1 2545.3,712.1 2557.3,715.1 2569.4,718.0 2581.4,720.8 2593.5,723.6 2605.6,726.4 2617.6,729.1 2629.7,731.7 2641.7,734.3 2653.8,736.9 2665.8,739.4 2677.9,741.8 2689.9,744.2 2702.0,746.6 2714.1,748.9 2726.1,751.2 2738.2,753.4 2750.2,755.6 2762.3,757.8 2774.3,759.9 2786.4,762.0 2798.5,764.0 2810.5,766.0 2822.6,768.0 2834.6,769.9 2846.7,771.8 2858.7,773.7 2870.8,775.5 2882.9,777.3 2894.9,779.1 2907.0,780.8 2919.0,782.5 2931.1,784.2 2943.1,785.8 2955.2,787.4" fill="none" stroke="#556B2F" stroke-width="3.8"/>
<polyline points="2231.8,720.4 2242.3,717.6 2252.8,714.7 2263.3,711.7 2273.7,708.7 2284.2,705.6 2294.7,702.4 2305.2,699.2 2315.7,696.0 2326.2,692.6 2336.6,689.3 2347.1,685.8 2357.6,682.3 2368.1,678.7 2378.6,675.1 2389.1,671.4 2399.6,667.6 2410.0,663.7 2420.5,659.8 2431.0,655.8 2441.5,651.7 2452.0,647.6 2462.5,643.3 2472.9,639.0 2483.4,634.6 2493.9,630.2 2504.4,625.6 2514.9,621.0 2525.4,616.3 2535.9,611.4 2546.3,606.5 2556.8,601.5 2567.3,596.4 2577.8,591.3 2588.3,586.0 2598.8,580.6 2609.2,575.1 2619.7,569.5 2630.2,563.8 2640.7,558.0 2651.2,552.1 2661.7,546.1 2672.2,540.0 2682.6,533.7 2693.1,527.4 2703.6,520.9 2714.1,514.3 2724.6,507.5 2735.1,500.7 2745.5,493.7 2756.0,486.6 2766.5,479.4 2777.0,472.0 2787.5,464.5 2798.0,456.8 2808.4,449.0 2818.9,441.0 2829.4,432.9 2839.9,424.7 2850.4,416.3 2860.9,407.7" fill="none" stroke="#CD5B45" stroke-width="3.8"/>
<text x="404.0" y="1125.0" font-size="77" font-weight="bold" >D</text>
<path d="M532.8,1165 V1979 H1343.8" fill="none" stroke="#000" stroke-width="2"/>
<path d="M528.3,1256 H532.8" stroke="#333" stroke-width="2"/>
<text x="435.0" y="1269.0" font-size="46" fill="#4D4D4D" >10%</text>
<path d="M528.3,1464.5 H532.8" stroke="#333" stroke-width="2"/>
<text x="460.5" y="1477.5" font-size="46" fill="#4D4D4D" >8%</text>
<path d="M528.3,1672.8 H532.8" stroke="#333" stroke-width="2"/>
<text x="460.5" y="1685.8" font-size="46" fill="#4D4D4D" >5%</text>
<path d="M528.3,1882 H532.8" stroke="#333" stroke-width="2"/>
<text x="460.5" y="1895.0" font-size="46" fill="#4D4D4D" >2%</text>
<path d="M570.0,1979 V1983.5" stroke="#333" stroke-width="2"/>
<text x="561.3" y="2024.5" font-size="46" fill="#4D4D4D" >0</text>
<path d="M662.2,1979 V1983.5" stroke="#333" stroke-width="2"/>
<text x="653.6" y="2024.5" font-size="46" fill="#4D4D4D" >2</text>
<path d="M754.4,1979 V1983.5" stroke="#333" stroke-width="2"/>
<text x="746.1" y="2024.5" font-size="46" fill="#4D4D4D" >4</text>
<path d="M846.6,1979 V1983.5" stroke="#333" stroke-width="2"/>
<text x="837.8" y="2024.5" font-size="46" fill="#4D4D4D" >6</text>
<path d="M938.8,1979 V1983.5" stroke="#333" stroke-width="2"/>
<text x="930.1" y="2024.5" font-size="46" fill="#4D4D4D" >8</text>
<path d="M1031.0,1979 V1983.5" stroke="#333" stroke-width="2"/>
<text x="1008.8" y="2024.5" font-size="46" fill="#4D4D4D" >10</text>
<path d="M1123.2,1979 V1983.5" stroke="#333" stroke-width="2"/>
<text x="1101.3" y="2024.5" font-size="46" fill="#4D4D4D" >12</text>
<path d="M1215.4,1979 V1983.5" stroke="#333" stroke-width="2"/>
<text x="1193.0" y="2024.5" font-size="46" fill="#4D4D4D" >14</text>
<path d="M1307.6,1979 V1983.5" stroke="#333" stroke-width="2"/>
<text x="1285.5" y="2024.5" font-size="46" fill="#4D4D4D" >16</text>
<text x="839.4" y="2074.6" font-size="57.5" >Litters index</text>
<g transform="translate(412.0,1498.5) rotate(-90.00)"><text x="-198.5" y="20.1" font-size="57.5" >Mean CMR (%)</text></g>
<polyline points="570,1435 653,1547 1123,1908.5" fill="none" stroke="#00C5CD" stroke-width="3.8"/>
<circle cx="573" cy="1201" r="3"/>
<circle cx="569.6" cy="1583.7" r="3"/>
<circle cx="652.7" cy="1621" r="3"/>
<circle cx="1123.5" cy="1899" r="3"/>
<text x="580.3" y="1205.0" font-size="34.5" >Carnivora</text>
<text x="579.2" y="1591.0" font-size="34.5" >Rodentia</text>
<text x="661.9" y="1626.0" font-size="34.5" >Primates</text>
<text x="1138.0" y="1899.0" font-size="34.5" >Artiodactyla</text>
<text x="1029.3" y="1194.0" font-size="34.5" >GLMM</text>
<text x="1028.2" y="1236.0" font-size="34.5" >FDR <tspan font-style="italic">P</tspan> &lt; 0.001</text>
<text x="1768.7" y="1130.7" font-size="77" font-weight="bold" >F</text>
<text x="1986.8" y="1160.8" font-size="34.5" >phylGLMM, FDR <tspan font-style="italic">P</tspan> = 0.002, <tspan font-style="italic">n</tspan> = 190</text>
<path d="M1918.9,1164.4 V1953 H2717" fill="none" stroke="#000" stroke-width="2"/>
<path d="M1914.4,1917 H1918.9" stroke="#333" stroke-width="2"/>
<text x="1846.1" y="1930.0" font-size="46" fill="#4D4D4D" >0.0</text>
<path d="M1914.4,1642 H1918.9" stroke="#333" stroke-width="2"/>
<text x="1846.5" y="1655.0" font-size="46" fill="#4D4D4D" >0.1</text>
<path d="M1914.4,1367 H1918.9" stroke="#333" stroke-width="2"/>
<text x="1846.8" y="1380.0" font-size="46" fill="#4D4D4D" >0.2</text>
<path d="M1999.6,1953 V1957.5" stroke="#333" stroke-width="2"/>
<text x="1980.8" y="1993.6" font-size="46" fill="#4D4D4D" >3</text>
<path d="M2217.3,1953 V1957.5" stroke="#333" stroke-width="2"/>
<text x="2198.8" y="1993.6" font-size="46" fill="#4D4D4D" >4</text>
<path d="M2435.0,1953 V1957.5" stroke="#333" stroke-width="2"/>
<text x="2416.2" y="1993.6" font-size="46" fill="#4D4D4D" >5</text>
<path d="M2652.7,1953 V1957.5" stroke="#333" stroke-width="2"/>
<text x="2633.7" y="1993.6" font-size="46" fill="#4D4D4D" >6</text>
<text x="1965.4" y="2044.8" font-size="57.5" >Log gestation length (days)</text>
<g transform="translate(1819.2,1541.0) rotate(-90.00)"><text x="-65.5" y="20.1" font-size="57.5" >CMR</text></g>
<g fill="#000"><circle cx="2265.4" cy="1198.7" r="2.8"/><circle cx="2265.4" cy="1207.1" r="2.8"/><circle cx="2334.9" cy="1198.7" r="2.8"/><circle cx="2352.4" cy="1246.4" r="2.8"/><circle cx="1998.9" cy="1343.9" r="2.8"/><circle cx="2252.8" cy="1367.1" r="2.8"/><circle cx="2487.8" cy="1367.1" r="2.8"/><circle cx="2649.2" cy="1367.1" r="2.8"/><circle cx="2301.9" cy="1384.6" r="2.8"/><circle cx="2351.0" cy="1407.8" r="2.8"/><circle cx="2488.5" cy="1400.8" r="2.8"/><circle cx="2464.0" cy="1428.1" r="2.8"/><circle cx="2460.5" cy="1458.3" r="2.8"/><circle cx="2123.0" cy="1473.7" r="2.8"/><circle cx="2169.3" cy="1494.1" r="2.8"/><circle cx="2332.1" cy="1510.2" r="2.8"/><circle cx="2203.0" cy="1524.2" r="2.8"/><circle cx="2244.4" cy="1524.2" r="2.8"/><circle cx="2522.2" cy="1524.2" r="2.8"/><circle cx="2533.4" cy="1524.2" r="2.8"/><circle cx="2278.8" cy="1529.8" r="2.8"/><circle cx="2243.0" cy="1542.5" r="2.8"/><circle cx="2361.5" cy="1552.3" r="2.8"/><circle cx="2369.3" cy="1566.3" r="2.8"/><circle cx="2381.9" cy="1573.3" r="2.8"/><circle cx="2252.1" cy="1563.5" r="2.8"/><circle cx="2491.3" cy="1573.3" r="2.8"/><circle cx="2519.4" cy="1573.3" r="2.8"/><circle cx="2181.3" cy="1573.3" r="2.8"/><circle cx="2536.9" cy="1578.3" r="2.8"/><circle cx="2261.9" cy="1583.2" r="2.8"/><circle cx="2402.9" cy="1587.4" r="2.8"/><circle cx="2128.6" cy="1586.7" r="2.8"/><circle cx="2332.8" cy="1593.7" r="2.8"/><circle cx="2165.8" cy="1611.2" r="2.8"/><circle cx="1954.0" cy="1622.5" r="2.8"/><circle cx="2107.6" cy="1640.0" r="2.8"/><circle cx="2355.2" cy="1642.1" r="2.8"/><circle cx="2345.4" cy="1644.9" r="2.8"/><circle cx="2377.0" cy="1648.4" r="2.8"/><circle cx="2224.0" cy="1651.2" r="2.8"/><circle cx="2277.4" cy="1647.7" r="2.8"/><circle cx="2283.0" cy="1654.7" r="2.8"/><circle cx="2534.8" cy="1642.1" r="2.8"/><circle cx="2529.9" cy="1654.7" r="2.8"/><circle cx="2558.7" cy="1667.3" r="2.8"/><circle cx="2261.2" cy="1674.4" r="2.8"/><circle cx="2439.4" cy="1675.1" r="2.8"/><circle cx="2475.9" cy="1663.8" r="2.8"/><circle cx="2614.1" cy="1672.3" r="2.8"/><circle cx="2278.8" cy="1680.7" r="2.8"/><circle cx="2529.2" cy="1693.3" r="2.8"/><circle cx="2471.7" cy="1687.7" r="2.8"/><circle cx="2489.2" cy="1705.9" r="2.8"/><circle cx="2293.5" cy="1703.8" r="2.8"/><circle cx="2447.8" cy="1705.2" r="2.8"/><circle cx="2395.9" cy="1722.1" r="2.8"/><circle cx="2412.1" cy="1724.9" r="2.8"/><circle cx="2415.6" cy="1730.5" r="2.8"/><circle cx="2242.3" cy="1729.1" r="2.8"/><circle cx="2139.9" cy="1727.0" r="2.8"/><circle cx="2189.0" cy="1732.6" r="2.8"/><circle cx="2444.3" cy="1731.2" r="2.8"/><circle cx="2473.1" cy="1733.3" r="2.8"/><circle cx="2351.0" cy="1735.4" r="2.8"/><circle cx="2529.2" cy="1738.2" r="2.8"/><circle cx="2249.3" cy="1749.4" r="2.8"/><circle cx="2463.3" cy="1755.0" r="2.8"/><circle cx="2231.1" cy="1760.0" r="2.8"/><circle cx="2497.6" cy="1759.2" r="2.8"/><circle cx="2571.3" cy="1766.3" r="2.8"/><circle cx="2536.9" cy="1771.9" r="2.8"/><circle cx="2276.7" cy="1779.6" r="2.8"/><circle cx="2344.0" cy="1779.6" r="2.8"/><circle cx="2431.7" cy="1785.2" r="2.8"/><circle cx="2554.5" cy="1779.6" r="2.8"/><circle cx="2435.2" cy="1791.5" r="2.8"/><circle cx="2558.0" cy="1790.1" r="2.8"/><circle cx="2571.3" cy="1792.2" r="2.8"/><circle cx="2582.5" cy="1800.6" r="2.8"/><circle cx="2462.6" cy="1802.7" r="2.8"/><circle cx="2443.6" cy="1806.3" r="2.8"/><circle cx="2447.8" cy="1814.7" r="2.8"/><circle cx="2457.7" cy="1811.2" r="2.8"/><circle cx="2478.7" cy="1812.6" r="2.8"/><circle cx="2505.4" cy="1818.9" r="2.8"/><circle cx="2526.4" cy="1822.4" r="2.8"/><circle cx="2529.2" cy="1822.4" r="2.8"/><circle cx="2537.6" cy="1818.9" r="2.8"/><circle cx="2139.2" cy="1818.2" r="2.8"/><circle cx="2259.8" cy="1814.7" r="2.8"/><circle cx="2283.7" cy="1808.4" r="2.8"/><circle cx="2327.9" cy="1818.9" r="2.8"/><circle cx="2429.6" cy="1818.9" r="2.8"/><circle cx="2460.5" cy="1830.1" r="2.8"/><circle cx="2547.5" cy="1829.4" r="2.8"/><circle cx="2265.4" cy="1830.1" r="2.8"/><circle cx="2284.4" cy="1830.1" r="2.8"/><circle cx="2364.4" cy="1835.7" r="2.8"/><circle cx="2550.3" cy="1837.8" r="2.8"/><circle cx="2573.4" cy="1818.9" r="2.8"/><circle cx="2622.5" cy="1832.9" r="2.8"/><circle cx="2450.6" cy="1844.1" r="2.8"/><circle cx="2254.9" cy="1847.6" r="2.8"/><circle cx="2273.2" cy="1852.6" r="2.8"/><circle cx="2336.3" cy="1847.6" r="2.8"/><circle cx="2428.2" cy="1849.7" r="2.8"/><circle cx="2477.3" cy="1848.3" r="2.8"/><circle cx="2527.8" cy="1851.9" r="2.8"/><circle cx="2535.5" cy="1860.3" r="2.8"/><circle cx="2531.3" cy="1863.1" r="2.8"/><circle cx="2430.3" cy="1863.1" r="2.8"/><circle cx="2570.6" cy="1856.8" r="2.8"/><circle cx="2651.3" cy="1851.2" r="2.8"/><circle cx="2390.3" cy="1865.9" r="2.8"/><circle cx="2469.6" cy="1872.2" r="2.8"/><circle cx="2511.7" cy="1865.9" r="2.8"/><circle cx="2548.9" cy="1872.2" r="2.8"/><circle cx="2568.5" cy="1877.8" r="2.8"/><circle cx="2580.4" cy="1870.8" r="2.8"/><circle cx="2455.6" cy="1879.2" r="2.8"/><circle cx="2467.5" cy="1901.0" r="2.8"/><circle cx="2457.7" cy="1896.8" r="2.8"/><circle cx="2432.4" cy="1887.6" r="2.8"/><circle cx="2499.7" cy="1888.3" r="2.8"/><circle cx="2511.7" cy="1889.7" r="2.8"/><circle cx="2532.0" cy="1893.2" r="2.8"/><circle cx="2541.8" cy="1884.8" r="2.8"/><circle cx="2553.1" cy="1890.4" r="2.8"/><circle cx="2633.7" cy="1889.7" r="2.8"/><circle cx="2682.1" cy="1883.4" r="2.8"/><circle cx="2083.0" cy="1883.4" r="2.8"/><circle cx="1999.6" cy="1779.6" r="2.8"/><circle cx="2003.1" cy="1779.6" r="2.8"/><circle cx="1989.0" cy="1917.1" r="2.8"/><circle cx="2116.7" cy="1917.1" r="2.8"/><circle cx="2218.4" cy="1917.1" r="2.8"/><circle cx="2248.6" cy="1917.1" r="2.8"/><circle cx="2256.3" cy="1917.1" r="2.8"/><circle cx="2329.3" cy="1917.1" r="2.8"/><circle cx="2339.1" cy="1917.1" r="2.8"/><circle cx="2375.6" cy="1917.1" r="2.8"/><circle cx="2386.8" cy="1917.1" r="2.8"/><circle cx="2402.2" cy="1917.1" r="2.8"/><circle cx="2412.1" cy="1917.1" r="2.8"/><circle cx="2430.3" cy="1917.1" r="2.8"/><circle cx="2433.8" cy="1917.1" r="2.8"/><circle cx="2445.0" cy="1917.1" r="2.8"/><circle cx="2453.4" cy="1917.1" r="2.8"/><circle cx="2457.7" cy="1917.1" r="2.8"/><circle cx="2461.9" cy="1917.1" r="2.8"/><circle cx="2465.4" cy="1917.1" r="2.8"/><circle cx="2469.6" cy="1917.1" r="2.8"/><circle cx="2473.8" cy="1917.1" r="2.8"/><circle cx="2482.2" cy="1917.1" r="2.8"/><circle cx="2503.3" cy="1917.1" r="2.8"/><circle cx="2507.5" cy="1917.1" r="2.8"/><circle cx="2512.4" cy="1917.1" r="2.8"/><circle cx="2536.2" cy="1917.1" r="2.8"/><circle cx="2544.6" cy="1917.1" r="2.8"/><circle cx="2548.2" cy="1917.1" r="2.8"/><circle cx="2552.4" cy="1917.1" r="2.8"/><circle cx="2557.3" cy="1917.1" r="2.8"/><circle cx="2579.0" cy="1917.1" r="2.8"/><circle cx="2613.4" cy="1917.1" r="2.8"/><circle cx="2632.3" cy="1917.1" r="2.8"/></g>
<polyline points="1954.8,1535.6 1966.9,1545.5 1979.0,1555.2 1991.1,1564.6 2003.2,1573.7 2015.4,1582.6 2027.5,1591.3 2039.6,1599.8 2051.7,1608.1 2063.9,1616.1 2076.0,1623.9 2088.1,1631.5 2100.2,1639.0 2112.3,1646.2 2124.5,1653.2 2136.6,1660.1 2148.7,1666.8 2160.8,1673.3 2173.0,1679.6 2185.1,1685.8 2197.2,1691.8 2209.3,1697.6 2221.4,1703.3 2233.6,1708.9 2245.7,1714.3 2257.8,1719.6 2269.9,1724.7 2282.1,1729.7 2294.2,1734.6 2306.3,1739.3 2318.4,1743.9 2330.5,1748.4 2342.7,1752.8 2354.8,1757.1 2366.9,1761.3 2379.0,1765.3 2391.2,1769.2 2403.3,1773.1 2415.4,1776.8 2427.5,1780.5 2439.6,1784.0 2451.8,1787.5 2463.9,1790.8 2476.0,1794.1 2488.1,1797.3 2500.3,1800.4 2512.4,1803.5 2524.5,1806.4 2536.6,1809.3 2548.7,1812.1 2560.9,1814.8 2573.0,1817.5 2585.1,1820.1 2597.2,1822.6 2609.4,1825.0 2621.5,1827.4 2633.6,1829.8 2645.7,1832.0 2657.8,1834.2 2670.0,1836.4 2682.1,1838.5" fill="none" stroke="#00C5CD" stroke-width="3.8"/>
<text x="16.0" y="2269.5" font-size="77" font-weight="bold" >E</text>
<text x="531.2" y="2276.0" font-size="73" fill="#300000" >Monotocous</text>
<text x="2004.1" y="2276.1" font-size="73" fill="#300000" >Polytocous</text>
<text x="1366.5" y="2276.1" font-size="73" fill="#300000" >Litters</text>
<text x="1353.8" y="2368.0" font-size="73" fill="#300000" >Rank20</text>
<ellipse cx="794.5" cy="2937.5" rx="569.3" ry="565.2" fill="none" stroke="#000" stroke-width="4.2"/>
<path d="M201.8,2885.6 A595.0,590.7 0 0 1 682.6,2357.3 M712.7,2352.4 A595.0,590.7 0 0 1 1343.0,3166.4 M1332.5,3189.7 A595.0,590.7 0 0 1 1177.9,3389.2 M1153.5,3408.6 A595.0,590.7 0 0 1 199.7,2921.7" fill="none" stroke="#000" stroke-width="4.2"/>
<path id="ap1" d="M330.6,3332.3 A611.0,606.6 0 0 1 1094.4,2409.0" fill="none"/><text font-size="43" fill="#300000"><textPath href="#ap1" startOffset="50%" text-anchor="middle">Chiroptera</textPath></text>
<path id="ap2" d="M501.1,2405.4 A611.0,606.6 0 0 1 1253.5,3337.9" fill="none"/><text font-size="43" fill="#300000"><textPath href="#ap2" startOffset="50%" text-anchor="middle">Cetartiodactyla</textPath></text>
<path id="ap3" d="M1251.4,2534.8 A611.0,606.6 0 0 1 503.9,3471.1" fill="none"/><text font-size="43" fill="#300000"><textPath href="#ap3" startOffset="50%" text-anchor="middle">Marsupialia</textPath></text>
<path id="ap4" d="M1259.1,3331.5 A611.0,606.6 0 0 1 222.2,2725.1" fill="none"/><text font-size="43" fill="#300000"><textPath href="#ap4" startOffset="50%" text-anchor="middle">Primates</textPath></text>
<g transform="translate(798.8,2609.2) rotate(90.00)"><text x="-59.5" y="-6.7" font-size="31.8" fill="#300000" >Big horn</text><text x="-43.2" y="28.9" font-size="31.8" fill="#300000" >sheep</text></g>
<g transform="translate(984.0,2629.0) rotate(-71.00)"><text x="-50.6" y="-6.7" font-size="31.8" fill="#300000" >Nubian</text><text x="-30.1" y="28.9" font-size="31.8" fill="#300000" >ibex</text></g>
<g transform="translate(1078.0,2726.9) rotate(-40.00)"><text x="-37.4" y="11.1" font-size="31.8" fill="#300000" >Kudu</text></g>
<g transform="translate(1191.0,2858.0) rotate(-19.00)"><text x="-64.2" y="-6.7" font-size="31.8" fill="#300000" >Common</text><text x="-50.9" y="28.9" font-size="31.8" fill="#300000" >dolphin</text></g>
<g transform="translate(1184.3,3022.4) rotate(17.00)"><text x="-64.2" y="-6.7" font-size="31.8" fill="#300000" >Common</text><text x="-61.3" y="28.9" font-size="31.8" fill="#300000" >porpoise</text></g>
<g transform="translate(1078.0,3168.8) rotate(33.70)"><text x="-41.9" y="11.1" font-size="31.8" fill="#300000" >Koala</text></g>
<g transform="translate(941.0,3229.0) rotate(57.00)"><text x="-119.9" y="-6.7" font-size="31.8" fill="#300000" >Sulawesi crested</text><text x="-65.7" y="28.9" font-size="31.8" fill="#300000" >macaque</text></g>
<g transform="translate(782.0,3273.0) rotate(-79.00)"><text x="-55.9" y="11.1" font-size="31.8" fill="#300000" >Mandrill</text></g>
<g transform="translate(639.0,3213.0) rotate(-66.00)"><text x="-96.6" y="-6.7" font-size="31.8" fill="#300000" >Black-capped</text><text x="-112.7" y="28.9" font-size="31.8" fill="#300000" >squirrel monkey</text></g>
<g transform="translate(511.8,3135.3) rotate(-35.00)"><text x="-83.9" y="-6.7" font-size="31.8" fill="#300000" >White-faced</text><text x="-88.9" y="28.9" font-size="31.8" fill="#300000" >saki monkey</text></g>
<g transform="translate(409.4,3015.8) rotate(-10.00)"><text x="-76.2" y="-6.7" font-size="31.8" fill="#300000" >Ring-tailed</text><text x="-40.5" y="28.9" font-size="31.8" fill="#300000" >lemur</text></g>
<g transform="translate(425.7,2857.9) rotate(20.60)"><text x="-98.0" y="-6.7" font-size="31.8" fill="#300000" >California leaf</text><text x="-70.8" y="28.9" font-size="31.8" fill="#300000" >nosed bat</text></g>
<g transform="translate(443.0,2741.0) rotate(37.00)"><text x="-57.4" y="-6.7" font-size="31.8" fill="#300000" >Vampire</text><text x="-23.0" y="28.9" font-size="31.8" fill="#300000" >bat</text></g>
<g transform="translate(564.4,2661.8) rotate(52.00)"><text x="-77.0" y="-6.7" font-size="31.8" fill="#300000" >Pale spear</text><text x="-70.8" y="28.9" font-size="31.8" fill="#300000" >nosed bat</text></g>
<g transform="translate(674.4,2590.0) rotate(61.00)"><text x="-73.2" y="-6.7" font-size="31.8" fill="#300000" >Rodrigues</text><text x="-53.1" y="28.9" font-size="31.8" fill="#300000" >fruit bat</text></g>
<ellipse cx="2164.8" cy="2936.3" rx="569.3" ry="565.2" fill="none" stroke="#000" stroke-width="4.2"/>
<path d="M1573.4,3000.9 A595.0,590.7 0 0 1 2170.7,2345.6 M2205.4,2347.0 A595.0,590.7 0 0 1 2624.1,3311.9 M2603.8,3335.0 A595.0,590.7 0 0 1 2437.9,3461.1 M2404.4,3477.0 A595.0,590.7 0 0 1 1898.7,3464.7 M1867.3,3447.9 A595.0,590.7 0 0 1 1578.5,3036.9" fill="none" stroke="#000" stroke-width="4.2"/>
<path id="ap5" d="M1645.5,3256.0 A611.0,606.6 0 0 1 2542.6,2459.6" fill="none"/><text font-size="43" fill="#300000"><textPath href="#ap5" startOffset="50%" text-anchor="middle">Rodentia</textPath></text>
<path id="ap6" d="M1897.0,2391.1 A611.0,606.6 0 0 1 2604.3,3357.7" fill="none"/><text font-size="43" fill="#300000"><textPath href="#ap6" startOffset="50%" text-anchor="middle">Carnivora</textPath></text>
<path id="ap7" d="M2710.2,2662.8 A611.0,606.6 0 0 1 1746.5,3378.5" fill="none"/><text font-size="43" fill="#300000"><textPath href="#ap7" startOffset="50%" text-anchor="middle">Eulipotyphla</textPath></text>
<path id="ap8" d="M2764.4,3053.1 A611.0,606.6 0 0 1 1561.2,3030.1" fill="none"/><text font-size="43" fill="#300000"><textPath href="#ap8" startOffset="50%" text-anchor="middle">Marsupialia</textPath></text>
<path id="ap9" d="M2426.9,3484.3 A611.0,606.6 0 0 1 1729.8,2510.4" fill="none"/><text font-size="43" fill="#300000"><textPath href="#ap9" startOffset="50%" text-anchor="middle">Primates</textPath></text>
<g transform="translate(2131.5,2533.0) rotate(90.00)"><text x="-64.2" y="-6.7" font-size="31.8" fill="#300000" >Common</text><text x="-70.6" y="28.9" font-size="31.8" fill="#300000" >dormouse</text></g>
<g transform="translate(2027.0,2553.0) rotate(70.00)"><text x="-35.2" y="-6.7" font-size="31.8" fill="#300000" >Gray</text><text x="-51.5" y="28.9" font-size="31.8" fill="#300000" >squirrel</text></g>
<g transform="translate(1958.0,2622.6) rotate(60.00)"><text x="-67.8" y="-6.7" font-size="31.8" fill="#300000" >Gunnison</text><text x="-75.1" y="28.9" font-size="31.8" fill="#300000" >prairie dog</text></g>
<g transform="translate(1880.0,2655.0) rotate(48.00)"><text x="-64.2" y="-6.7" font-size="31.8" fill="#300000" >Common</text><text x="-62.2" y="28.9" font-size="31.8" fill="#300000" >field vole</text></g>
<g transform="translate(1855.7,2734.7) rotate(34.00)"><text x="-64.2" y="-6.7" font-size="31.8" fill="#300000" >Common</text><text x="-48.0" y="28.9" font-size="31.8" fill="#300000" >mouse</text></g>
<g transform="translate(1838.0,2817.0) rotate(17.00)"><text x="-50.0" y="-6.7" font-size="31.8" fill="#300000" >Striped</text><text x="-90.9" y="28.9" font-size="31.8" fill="#300000" >grass mouse</text></g>
<g transform="translate(1768.0,2880.9) rotate(10.00)"><text x="-38.2" y="11.1" font-size="31.8" fill="#300000" >Degu</text></g>
<g transform="translate(1818.5,2956.9) rotate(-3.00)"><text x="-46.2" y="-6.7" font-size="31.8" fill="#300000" >Naked</text><text x="-58.4" y="28.9" font-size="31.8" fill="#300000" >mole rat</text></g>
<g transform="translate(1802.0,3066.0) rotate(-14.00)"><text x="-74.2" y="-6.7" font-size="31.8" fill="#300000" >Red ruffed</text><text x="-40.5" y="28.9" font-size="31.8" fill="#300000" >lemur</text></g>
<g transform="translate(1825.0,3169.5) rotate(-25.00)"><text x="-45.5" y="-6.7" font-size="31.8" fill="#300000" >Pigmy</text><text x="-71.6" y="28.9" font-size="31.8" fill="#300000" >marmoset</text></g>
<g transform="translate(1914.0,3265.0) rotate(-38.00)"><text x="-48.4" y="-6.7" font-size="31.8" fill="#300000" >Silvery</text><text x="-71.6" y="28.9" font-size="31.8" fill="#300000" >marmoset</text></g>
<g transform="translate(2026.2,3309.6) rotate(-68.00)"><text x="-52.8" y="-6.7" font-size="31.8" fill="#300000" >Virginia</text><text x="-64.2" y="28.9" font-size="31.8" fill="#300000" >opossum</text></g>
<g transform="translate(2138.3,3334.0) rotate(-82.00)"><text x="-75.4" y="-6.7" font-size="31.8" fill="#300000" >Feathertail</text><text x="-39.3" y="28.9" font-size="31.8" fill="#300000" >glider</text></g>
<g transform="translate(2265.0,3319.4) rotate(63.00)"><text x="-89.4" y="-6.7" font-size="31.8" fill="#300000" >Pigmy sugar</text><text x="-39.3" y="28.9" font-size="31.8" fill="#300000" >glider</text></g>
<g transform="translate(2377.0,3256.0) rotate(50.00)"><text x="-69.2" y="-6.7" font-size="31.8" fill="#300000" >Four-toed</text><text x="-70.8" y="28.9" font-size="31.8" fill="#300000" >hedgehog</text></g>
<g transform="translate(2482.0,3177.0) rotate(27.00)"><text x="-65.7" y="-6.7" font-size="31.8" fill="#300000" >Mountain</text><text x="-24.7" y="28.9" font-size="31.8" fill="#300000" >lion</text></g>
<g transform="translate(2483.0,3068.0) rotate(15.00)"><text x="-40.0" y="-6.7" font-size="31.8" fill="#300000" >White</text><text x="-83.9" y="28.9" font-size="31.8" fill="#300000" >bengal tiger</text></g>
<g transform="translate(2531.0,2978.3) rotate(3.00)"><text x="-48.6" y="11.1" font-size="31.8" fill="#300000" >Jaguar</text></g>
<g transform="translate(2528.0,2892.6) rotate(-5.00)"><text x="-40.5" y="-6.7" font-size="31.8" fill="#300000" >Snow</text><text x="-53.0" y="28.9" font-size="31.8" fill="#300000" >leopard</text></g>
<g transform="translate(2533.0,2800.0) rotate(-18.00)"><text x="-35.2" y="-6.7" font-size="31.8" fill="#300000" >Grey</text><text x="-28.3" y="28.9" font-size="31.8" fill="#300000" >wolf</text></g>
<g transform="translate(2458.0,2713.0) rotate(-40.00)"><text x="-38.1" y="-6.7" font-size="31.8" fill="#300000" >Cape</text><text x="-83.2" y="28.9" font-size="31.8" fill="#300000" >hunting dog</text></g>
<g transform="translate(2403.0,2626.0) rotate(-55.00)"><text x="-53.9" y="-6.7" font-size="31.8" fill="#300000" >Fennec</text><text x="-21.3" y="28.9" font-size="31.8" fill="#300000" >fox</text></g>
<g transform="translate(2325.4,2569.0) rotate(-60.00)"><text x="-43.6" y="11.1" font-size="31.8" fill="#300000" >Ferret</text></g>
<g transform="translate(2223.0,2578.8) rotate(-77.50)"><text x="-74.3" y="11.1" font-size="31.8" fill="#300000" >Polar bear</text></g>
<text x="1088.0" y="3582.5" font-size="72.8" fill="#300000" >Malignancy prevalence</text>
<text x="549.6" y="3662.9" font-size="73" fill="#300000" >High/low: 0.25</text>
<text x="687.3" y="3752.0" font-size="73" fill="#300000" ><tspan font-style="italic">n</tspan> = 15</text>
<text x="1931.2" y="3662.0" font-size="73" fill="#300000" >High/low: 2.00</text>
<text x="2080.3" y="3752.0" font-size="73" fill="#300000" ><tspan font-style="italic">n</tspan> = 24</text>
<rect x="1367.5" y="3610.5" width="76.2" height="71.7" fill="#CD5B45" stroke="#000" stroke-width="6"/>
<rect x="1367.5" y="3704.3" width="76.2" height="71.7" fill="#556B2F" stroke="#000" stroke-width="6"/>
<text x="1467.4" y="3671.8" font-size="73" fill="#300000" >High</text>
<text x="1469.2" y="3762.9" font-size="73" fill="#300000" >Low</text>
<path d="M923.3,3876.4 V4414.6 M909.8,4397.2 H2052.7 M1487.9,4397.2 V4414.6 M2052.7,4397.2 V4414.6" fill="none" stroke="#BFBFBF" stroke-width="2"/>
<path d="M910,4397.2 H923.3" stroke="#BFBFBF" stroke-width="2"/>
<text x="859.6" y="4412.2" font-size="45" >0</text>
<path d="M910,4322.8 H923.3" stroke="#BFBFBF" stroke-width="2"/>
<text x="822.2" y="4337.8" font-size="45" >0,5</text>
<path d="M910,4248.4 H923.3" stroke="#BFBFBF" stroke-width="2"/>
<text x="860.0" y="4263.4" font-size="45" >1</text>
<path d="M910,4174.0 H923.3" stroke="#BFBFBF" stroke-width="2"/>
<text x="822.2" y="4189.0" font-size="45" >1,5</text>
<path d="M910,4099.6 H923.3" stroke="#BFBFBF" stroke-width="2"/>
<text x="860.3" y="4114.6" font-size="45" >2</text>
<path d="M910,4025.2 H923.3" stroke="#BFBFBF" stroke-width="2"/>
<text x="822.2" y="4040.2" font-size="45" >2,5</text>
<path d="M910,3950.8 H923.3" stroke="#BFBFBF" stroke-width="2"/>
<text x="859.8" y="3965.8" font-size="45" >3</text>
<path d="M910,3876.4 H923.3" stroke="#BFBFBF" stroke-width="2"/>
<text x="822.2" y="3891.4" font-size="45" >3,5</text>
<rect x="993.3" y="4360.0" width="142.0" height="37.2" fill="#B5E5A0" stroke="#000" stroke-width="2.2"/>
<rect x="1135.3" y="4367.4" width="140.6" height="29.8" fill="#8FD878" stroke="#000" stroke-width="2.2"/>
<rect x="1558.5" y="4099.6" width="140.6" height="297.6" fill="#F5C6AB" stroke="#000" stroke-width="2.2"/>
<rect x="1699.1" y="4010.3" width="141.5" height="386.9" fill="#F0A984" stroke="#000" stroke-width="2.2"/>
<rect x="1840.6" y="3901.2" width="142.0" height="496.0" fill="#BF5016" stroke="#000" stroke-width="2.2"/>
<text x="999.7" y="4344.6" font-size="37" >Rank20</text>
<text x="1140.3" y="4351.0" font-size="37" >Rank15</text>
<text x="1281.8" y="4380.0" font-size="37" >Rank10</text>
<text x="1563.5" y="4083.4" font-size="37" >Rank20</text>
<text x="1705.0" y="3994.0" font-size="37" >Rank15</text>
<text x="1846.6" y="3884.7" font-size="37" >Rank10</text>
<text x="1042.5" y="4488.3" font-size="59.5" >Monotocous</text>
<text x="1623.8" y="4488.3" font-size="59.5" >Polytocous</text>
<text x="1394.2" y="4567.8" font-size="66" >Litters</text>
<g transform="translate(780.4,4134.2) rotate(-90.00)"><text x="-204.2" y="23.4" font-size="67" >High/low ratio</text></g>
<g transform="translate(540,1210) scale(0.24237)" fill="#000"><path d="M190,80 C200,60 230,55 265,82 L300,72 C340,65 390,68 420,75 L440,60 C460,52 490,55 492,68 L480,118 C500,140 515,170 505,215 L520,222 C650,232 800,235 920,232 C1000,235 1060,280 1135,350 L1380,398 C1440,400 1480,380 1510,360 C1535,355 1540,385 1525,400 C1490,430 1440,445 1380,440 L1165,412 C1180,440 1200,455 1280,460 C1300,480 1320,510 1355,540 C1360,555 1340,565 1320,578 L1240,575 C1215,565 1200,545 1180,535 L1150,528 C1150,560 1140,570 1120,575 C1090,580 1060,590 1040,605 C1020,608 1005,590 1012,570 C1020,555 1030,545 1035,530 L940,528 C850,515 700,520 560,528 L560,575 C520,600 470,625 430,650 C435,690 430,715 400,722 L320,722 C280,715 265,695 275,670 C285,640 310,615 340,600 L365,530 L280,518 C270,545 260,570 215,590 C215,620 195,645 175,660 C140,680 100,685 60,670 C55,640 70,615 120,580 L175,380 L180,300 C195,290 205,280 210,265 C200,220 195,180 210,140 C195,120 185,100 190,80 Z"/></g>
<g transform="translate(580,1400) scale(0.18495)" fill="#000"><path d="M100,815 C50,770 40,720 80,680 C150,630 280,610 420,595 C500,585 560,565 595,535 C610,480 620,400 640,330 C670,240 730,170 830,150 C920,140 1000,145 1050,162 L1120,130 L1125,70 C1130,45 1190,45 1220,90 L1230,95 C1300,88 1400,100 1440,120 C1490,125 1505,145 1495,165 C1490,200 1470,230 1440,250 C1380,270 1330,290 1300,310 C1270,340 1250,370 1240,400 C1210,430 1180,460 1170,490 L1180,560 C1200,580 1250,590 1270,605 C1265,615 1240,625 1230,620 L1160,605 L1140,560 L1170,630 C1180,645 1170,655 1150,655 L1110,655 C1090,620 1060,570 1040,545 L940,580 L880,600 C920,610 990,630 1005,650 C1005,665 990,670 940,670 C900,665 860,655 830,650 C800,640 790,615 790,600 L660,590 C560,620 400,640 280,650 C180,665 110,700 90,730 C75,760 85,790 100,815 Z"/></g>
<g transform="translate(860,1490) scale(0.12117)" fill="#000"><path fill-rule="evenodd" d="M280,200 C330,120 430,90 500,90 C600,95 680,150 720,225 C790,215 850,250 860,310 C950,360 1050,400 1130,450 C1230,520 1290,600 1305,700 C1310,800 1310,1000 1290,1200 C1280,1400 1290,1500 1300,1600 L1400,1640 C1430,1660 1425,1700 1410,1730 C1380,1770 1300,1780 1270,1760 L1180,1730 L1100,1720 C1090,1780 1060,1810 1000,1820 C950,1825 880,1810 875,1780 C870,1740 900,1720 920,1700 C880,1690 830,1720 810,1700 L800,1660 C820,1600 850,1560 870,1540 L860,1180 C840,1230 800,1280 780,1300 C770,1400 780,1500 790,1600 L790,1690 C760,1700 700,1700 660,1710 C630,1730 620,1770 600,1770 C580,1760 600,1740 620,1720 L540,1730 C500,1740 450,1740 420,1730 C390,1760 360,1760 350,1700 C300,1760 230,1770 220,1700 C210,1600 210,1500 220,1400 L200,1150 C180,1100 150,1000 140,900 L140,700 C160,600 200,540 270,490 C200,470 150,400 155,320 C160,250 220,220 280,230 Z M430,800 L650,930 C600,1050 560,1150 560,1300 C570,1450 600,1550 615,1630 L460,1660 C430,1500 415,1300 420,1000 Z"/></g>
<g transform="translate(1040,1670) scale(0.19133)" fill="#000"><path d="M440,570 C520,470 620,380 720,250 C760,160 790,100 850,95 L1350,80 C1440,90 1480,130 1470,200 C1470,300 1430,420 1400,520 L1440,580 L1445,650 C1460,720 1480,800 1495,860 C1495,890 1470,905 1430,915 L1420,900 C1430,880 1440,860 1430,840 L1410,660 C1380,750 1370,850 1350,930 L1300,935 C1300,910 1320,900 1330,890 L1345,650 C1330,600 1300,530 1265,495 L1060,500 C1050,600 1050,800 1055,910 C1050,940 1030,950 1005,950 C1005,930 1010,920 1020,910 L970,545 L840,605 C820,700 800,830 780,930 C770,960 740,970 720,965 C720,945 740,935 750,920 L765,625 C690,700 600,830 500,975 C480,980 460,975 455,960 C455,900 440,800 405,745 C380,720 360,700 395,665 Z"/>
<path d="M395,690 C370,600 340,480 320,420 C300,380 250,340 200,290" fill="none" stroke="#000" stroke-width="40" stroke-linecap="round"/>
<path d="M200,290 L190,220 M200,290 L70,235 M235,330 L70,295 M300,450 C250,440 200,400 170,360 M330,520 C250,520 180,490 140,490 M350,620 C320,640 280,640 270,632 M360,665 C330,690 290,690 262,690 M385,715 C340,790 260,820 200,805 L185,775 M420,650 C440,600 430,560 420,525" fill="none" stroke="#000" stroke-width="28" stroke-linecap="round"/></g>
<g transform="translate(540,2380) scale(0.34439)"><path d="M40,215 C60,180 100,160 150,155 L195,155 C180,165 175,175 185,200 C200,215 220,225 240,220 L250,212 L265,220 L280,235 C310,230 340,222 375,215 C400,260 430,300 445,345 C400,340 320,330 270,350 L250,330 C200,320 170,330 150,345 L135,385 L130,410 L120,380 L105,400 L100,370 C80,320 60,270 50,240 Z" fill="#556B2F" fill-rule="evenodd"/></g>
<g transform="translate(760,2390) scale(0.07015)"><path d="M660,620 L620,500 L610,300 L650,160 L730,80 L830,60 L920,90 L1010,150 L1080,100 L1180,70 L1290,90 L1380,180 L1420,320 L1420,500 L1380,620 L1330,660 L1280,620 L1250,430 L1190,400 L1180,470 L1220,640 L1240,760 L1290,880 L1310,1020 L1290,1170 L1230,1300 L1180,1430 L1150,1550 L1170,1750 L1240,1880 L1380,1960 L1370,2000 L1100,2010 L700,2000 L120,2010 L100,1900 L130,1600 L140,1300 L125,1000 L150,870 L250,760 L380,690 L550,660 Z M740,380 L860,440 L850,590 L700,630 L730,500 Z M185,1960 L190,1750 L240,1500 L330,1340 L380,1310 L420,1370 L440,1450 L390,1570 L420,1700 L530,1960 Z M525,1620 L610,1520 L665,1440 L730,1500 L720,1700 L700,1960 L680,1960 L540,1700 Z M835,1460 L1010,1400 L1030,1600 L1040,1800 L1060,1960 L840,1960 Z" fill="#556B2F" fill-rule="evenodd"/></g>
<g transform="translate(540,2380) scale(0.34439)"><path d="M1160,265 C1160,200 1180,160 1210,155 C1240,160 1250,190 1255,200 C1270,160 1310,140 1350,160 C1380,180 1385,220 1370,245 C1355,250 1340,240 1345,230 C1365,215 1360,185 1330,180 C1300,185 1290,200 1285,215 L1310,205 L1280,245 C1300,265 1320,270 1340,272 L1480,280 C1505,300 1510,330 1500,350 L1500,440 L1505,520 L1490,530 L1470,440 L1455,520 L1440,525 L1445,420 L1350,400 L1340,520 L1320,530 L1315,420 L1310,520 L1290,525 L1280,400 C1260,380 1250,340 1240,310 L1230,280 C1215,260 1200,230 1195,215 C1185,225 1175,245 1170,265 Z" fill="#556B2F" fill-rule="evenodd"/></g>
<g transform="translate(1085,2575) scale(0.11480)"><path d="M55,730 L130,640 L220,520 L300,440 L310,375 L360,300 L430,250 L480,170 L560,90 L620,75 L700,90 L780,120 L850,180 L920,240 L1000,295 L1050,320 L1045,250 L1070,190 L1130,150 L1210,155 L1130,175 L1090,215 L1095,260 L1160,310 L1200,370 L1240,430 L1320,440 L1400,510 L1445,480 L1475,380 L1495,430 L1485,500 L1450,550 L1380,560 L1360,600 L1300,610 L1240,570 L1180,580 L1100,700 L1020,780 L930,850 L850,925 L760,930 L720,990 L660,1090 L650,1230 L55,735 Z M135,745 L200,660 L290,545 L445,478 L330,560 L240,700 L205,820 Z M280,880 L300,700 L380,620 L510,580 L640,710 L560,870 L430,1020 Z M490,1090 L560,960 L680,800 L720,800 L750,850 L640,1000 L580,1150 Z" fill="#556B2F" fill-rule="evenodd"/></g>
<g transform="translate(1080,2570) scale(0.17219)"><path d="M985,775 L1040,830 L1085,790 C1080,830 1060,860 1050,880 C1100,980 1200,1100 1300,1200 L1340,1280 C1380,1280 1420,1270 1455,1245 C1450,1300 1410,1350 1380,1420 C1350,1550 1320,1700 1270,1850 C1230,1920 1190,1980 1160,2040 L1145,2040 C1150,1980 1150,1900 1130,1800 L1130,1710 C1100,1680 1070,1630 1060,1540 L1110,1590 C1120,1450 1120,1300 1130,1200 C1100,1050 1060,950 1010,850 Z" fill="#556B2F" fill-rule="evenodd"/></g>
<g transform="translate(1100,2950) scale(0.15944)"><path d="M1410,55 C1380,90 1370,150 1390,240 C1400,220 1450,200 1495,160 C1480,210 1450,250 1420,280 C1390,330 1370,370 1365,410 C1355,480 1350,530 1355,560 C1380,600 1410,620 1430,625 C1410,660 1370,680 1330,700 C1280,800 1240,900 1200,1000 C1170,1060 1120,1100 1080,1105 C1060,1100 1050,1060 1045,1000 L1030,800 C1020,770 1000,720 995,640 L1040,690 C1080,560 1150,430 1240,350 C1300,310 1350,280 1390,250 Z" fill="#556B2F" fill-rule="evenodd"/></g>
<g transform="translate(1100,2950) scale(0.15944)"><path d="M100,1730 C90,1680 120,1660 150,1650 C200,1600 240,1560 270,1520 C260,1470 300,1440 360,1445 C420,1450 450,1490 460,1530 L450,1580 C470,1610 500,1630 560,1640 L580,1610 L650,1555 L640,1610 C690,1630 720,1680 720,1740 C770,1740 820,1750 860,1790 L900,1775 L1000,1775 C950,1870 870,1990 760,2100 C700,2150 640,2190 580,2230 L610,2150 C500,2130 400,2060 330,1960 C300,1900 280,1860 260,1830 L220,1850 C180,1870 140,1860 120,1830 C100,1800 90,1760 100,1730 Z" fill="#CD5B45" fill-rule="evenodd"/></g>
<g transform="translate(450,3290) scale(0.41454)"><path d="M50,60 C80,40 110,35 140,45 C160,55 170,60 200,62 L260,62 C300,75 330,100 340,140 C345,200 330,260 340,320 C350,360 380,375 395,385 C380,395 350,390 330,370 C310,330 315,260 320,210 L300,240 L280,270 L270,268 L275,240 L260,210 L250,265 L200,265 C195,255 205,250 230,250 L235,200 C220,180 200,170 180,170 L150,210 L150,255 L110,262 C105,250 115,245 140,240 L145,190 L100,215 L40,235 C35,225 40,215 60,215 L130,170 C140,140 130,115 100,100 C70,95 55,80 50,60 Z" fill="#556B2F" fill-rule="evenodd"/></g>
<g transform="translate(450,3290) scale(0.41454)"><path d="M700,200 C730,180 780,180 810,195 C860,220 890,270 895,330 C900,380 880,430 860,460 L780,468 L750,455 L720,450 L730,435 L760,432 C750,410 740,400 720,400 L690,470 L660,470 C665,420 680,360 685,300 C685,260 690,220 700,200 Z" fill="#CD5B45" fill-rule="evenodd"/></g>
<g transform="translate(450,3290) scale(0.41454)"><path d="M1160,200 C1165,150 1175,120 1190,118 C1260,130 1320,115 1380,100 C1440,95 1470,150 1470,210 C1480,240 1490,260 1500,270 L1530,295 C1520,305 1490,310 1470,310 L1420,250 L1430,330 L1440,345 L1385,358 C1380,345 1395,340 1410,335 L1390,265 L1350,265 L1345,360 C1330,370 1320,370 1310,368 L1315,355 L1300,285 L1310,385 C1300,400 1280,400 1260,395 L1280,385 L1270,320 C1230,280 1200,250 1180,230 C1165,220 1160,210 1160,200 Z" fill="#556B2F" fill-rule="evenodd"/></g>
<g transform="translate(240,2940) scale(0.15306)"><path d="M135,135 L160,140 L180,135 L320,145 C325,170 315,185 300,195 C320,250 380,300 450,360 C520,420 550,470 560,530 C580,600 600,680 620,740 C650,800 700,820 750,815 C800,820 810,870 790,905 L620,905 C590,880 560,830 540,780 C510,740 500,700 490,690 L445,750 C440,800 420,840 400,880 L280,890 C270,870 280,855 300,850 L360,830 C350,800 340,760 330,740 L270,850 L140,870 C125,855 135,835 160,828 L240,820 L250,730 C215,720 190,700 195,650 L220,580 C200,500 180,400 160,300 C150,250 140,180 135,135 Z" fill="#CD5B45" fill-rule="evenodd"/></g>
<g transform="translate(240,2940) scale(0.15306)"><path d="M390,1630 C420,1650 470,1690 510,1720 L560,1715 C620,1690 660,1640 680,1590 C720,1520 770,1470 800,1400 C830,1370 880,1360 930,1370 C1000,1400 1050,1440 1090,1480 C1140,1520 1190,1600 1220,1650 C1290,1760 1320,1850 1330,1960 C1320,2080 1290,2150 1250,2200 C1150,2240 1060,2260 1000,2280 L920,2350 C820,2250 720,2100 620,1970 L560,1870 L740,1940 L890,1790 L840,1750 L700,1800 L520,1800 C470,1750 420,1690 390,1630 Z" fill="#556B2F" fill-rule="evenodd"/></g>
<g transform="translate(240,2500) scale(0.19133)"><path d="M870,225 C900,205 980,200 1140,205 L1265,245 C1230,190 1190,130 1175,80 C1190,50 1230,40 1270,55 C1300,70 1320,85 1330,95 L1340,190 L1400,205 L1440,180 L1445,210 C1480,230 1505,245 1500,275 C1470,300 1450,320 1440,340 L1430,410 L1400,420 L1385,490 L1360,490 L1350,400 C1300,390 1200,380 1140,370 L1000,315 C950,280 900,250 870,225 Z" fill="#556B2F" fill-rule="evenodd"/></g>
<g transform="translate(240,2500) scale(0.19133)"><path d="M460,820 C520,720 560,620 590,560 C620,500 650,470 680,465 C710,470 720,520 720,600 L700,690 L740,690 C720,710 700,730 690,750 L800,690 C770,730 730,780 680,850 C680,880 700,910 740,930 L760,920 L775,940 C800,950 830,960 830,990 C810,1010 790,1020 780,1030 C720,1070 650,1100 600,1110 L470,1170 L420,1160 L410,1140 L480,1130 C490,1050 480,950 460,820 Z" fill="#556B2F" fill-rule="evenodd"/></g>
<g transform="translate(240,2500) scale(0.19133)"><path d="M330,1320 L350,1340 L380,1360 C380,1420 390,1460 400,1490 C380,1550 375,1600 380,1620 C370,1700 355,1770 340,1790 C300,1850 250,1930 220,1960 C180,2000 120,2050 50,2090 C80,2050 110,1990 130,1950 L120,1900 L160,1870 C150,1820 150,1780 160,1750 L230,1810 C240,1700 240,1600 250,1500 C270,1430 300,1370 330,1320 Z" fill="#556B2F" fill-rule="evenodd"/></g>
<g transform="translate(1840,2370) scale(0.30612)"><path d="M90,320 C95,295 120,285 150,290 C175,300 180,320 175,340 C195,360 215,375 230,395 L240,410 L225,420 C235,460 240,500 235,520 L255,530 L240,545 L140,555 C110,575 85,575 75,545 L95,560 C110,555 120,540 110,520 L100,450 C95,400 90,350 90,320 Z" fill="#CD5B45" fill-rule="evenodd"/></g>
<g transform="translate(1840,2370) scale(0.30612)"><path d="M330,240 C350,215 375,200 390,195 L400,168 L410,200 C440,220 470,240 495,270 L515,300 C510,250 520,195 560,170 C600,165 625,190 620,225 C610,250 590,265 580,280 C575,320 570,360 560,390 C545,410 510,420 480,418 L460,422 L445,410 L385,390 L380,375 L410,370 L420,330 L400,340 L385,350 L390,320 L410,300 C400,280 380,265 350,265 C335,260 325,250 330,240 Z" fill="#556B2F" fill-rule="evenodd"/></g>
<g transform="translate(1840,2370) scale(0.30612)"><path d="M675,185 L820,140 L825,110 C830,95 850,95 860,105 C880,70 920,50 960,45 C1020,45 1060,90 1060,140 C1060,170 1050,190 1040,205 L1050,215 L1010,230 L980,240 L940,245 L900,235 L850,220 L810,210 L840,200 L835,155 L680,190 Z" fill="#556B2F" fill-rule="evenodd"/></g>
<g transform="translate(1840,2370) scale(0.30612)"><path d="M1190,290 C1200,240 1240,200 1300,160 C1340,130 1380,100 1430,80 L1440,72 L1470,90 C1490,105 1505,120 1505,135 C1500,145 1480,148 1460,148 C1430,180 1410,230 1410,280 L1405,340 L1420,355 L1395,360 L1300,372 C1240,375 1200,365 1195,345 C1185,320 1185,305 1190,290 Z" fill="#CD5B45" fill-rule="evenodd"/></g>
<g transform="translate(2260,2430) scale(0.29337)"><path d="M80,235 C130,220 180,200 240,175 C250,130 270,80 310,55 C360,40 420,60 470,95 L490,60 C510,50 560,50 565,70 C570,120 560,170 540,210 L520,260 L540,270 L520,280 L490,290 C470,270 450,240 420,210 C390,200 370,210 360,240 L390,250 L345,255 L290,255 L270,265 L240,275 L230,240 L200,225 C160,235 120,240 80,235 Z" fill="#CD5B45" fill-rule="evenodd"/></g>
<g transform="translate(2260,2430) scale(0.29337)"><path d="M650,240 C670,230 700,260 730,290 L740,295 L770,290 C800,260 840,230 860,245 C860,290 840,330 820,350 L810,390 C830,440 840,500 845,545 L840,590 L740,595 L610,590 C600,570 610,545 640,540 L680,540 C690,500 700,450 700,420 L695,360 C670,310 650,280 650,240 Z" fill="#CD5B45" fill-rule="evenodd"/></g>
<g transform="translate(2260,2430) scale(0.29337)"><path d="M930,560 C940,545 970,550 990,570 L1010,570 C1030,550 1060,540 1070,560 C1070,590 1060,610 1050,620 L1080,640 L1200,650 C1230,660 1250,700 1260,750 L1300,790 L1295,805 L1270,800 L1265,820 L1290,900 L1300,905 L1260,905 L1240,840 L1200,820 L1180,890 L1130,910 L1170,880 L1160,830 L1100,820 L1100,890 L1060,910 L1080,880 L1070,820 L1040,800 L1040,890 L1000,910 L970,910 L1020,880 L1000,790 C970,720 960,650 950,620 C935,600 925,580 930,560 Z" fill="#CD5B45" fill-rule="evenodd"/></g>
<g transform="translate(2560,2690) scale(0.14335)"><path d="M160,890 C160,800 180,700 220,640 L220,450 C230,370 270,320 330,305 L560,285 L610,250 L640,165 L700,205 L790,210 L815,165 C835,180 840,240 840,330 C830,400 800,470 760,530 L740,600 L735,870 L780,910 C780,930 760,935 740,935 L700,930 L660,640 L640,640 L640,900 L665,940 C650,950 610,950 585,945 L580,900 L550,640 L480,625 L400,700 L390,800 L410,870 L440,885 C440,900 420,905 390,905 L360,900 L330,780 L300,780 L260,725 L200,820 L215,880 L225,905 C205,915 180,915 160,890 Z" fill="#CD5B45" fill-rule="evenodd"/></g>
<g transform="translate(2560,2690) scale(0.14335)"><path d="M215,1500 C220,1480 260,1470 290,1480 C350,1400 380,1300 410,1200 C430,1110 480,1060 560,1035 L800,1030 L870,975 L880,915 L900,910 L930,925 L1010,920 L1040,905 C1060,915 1055,960 1045,990 C1000,1050 990,1120 985,1200 L940,1300 L935,1450 L940,1520 L940,1570 L790,1580 L780,1400 L770,1330 L620,1320 L580,1380 L500,1460 L550,1520 C560,1555 540,1565 510,1565 L420,1565 L400,1470 L410,1420 C370,1480 330,1530 280,1555 C240,1560 215,1540 215,1500 Z" fill="#CD5B45" fill-rule="evenodd"/></g>
<g transform="translate(2560,2690) scale(0.14335)"><path d="M200,2040 C210,2025 250,2020 290,2025 L300,1990 C330,1960 370,1950 380,1930 C390,1880 380,1850 370,1820 L360,1790 C370,1770 400,1770 430,1790 C480,1780 560,1780 620,1790 L640,1780 C660,1790 670,1810 660,1840 C680,1900 700,1960 720,1990 L830,2010 C900,2020 940,2050 960,2080 L990,2075 C1010,2090 1030,2120 1030,2140 L1025,2210 L1050,2230 L1040,2260 L400,2270 L200,2265 C190,2240 190,2060 200,2040 Z" fill="#CD5B45" fill-rule="evenodd"/></g>
<g transform="translate(2400,3030) scale(0.19133)"><path d="M740,260 C760,235 800,225 820,215 L790,170 L800,120 L810,70 L845,30 L870,45 L950,45 C1020,60 1080,100 1150,130 L1320,170 C1360,120 1400,85 1440,75 L1510,80 L1440,90 C1400,110 1370,150 1350,190 C1390,250 1420,300 1440,350 L1500,440 L1530,500 L1520,530 L1490,520 L1450,430 L1420,380 L1430,470 L1450,520 L1440,545 L1410,530 L1380,420 L1340,340 L1300,320 L1150,310 C1100,290 1050,280 1000,280 L940,290 L830,300 L790,290 L760,285 Z" fill="#CD5B45" fill-rule="evenodd"/></g>
<g transform="translate(2400,3030) scale(0.19133)"><path d="M645,1040 C650,1000 700,985 760,1000 L910,1020 C940,970 990,930 1040,880 C1060,800 1070,750 1090,720 L1130,640 L1160,610 L1190,585 L1200,610 L1230,630 L1285,680 L1285,715 L1210,740 L1250,800 L1320,750 L1370,700 L1410,710 L1410,750 L1380,800 L1340,830 L1280,860 C1240,920 1200,980 1160,1040 C1120,1090 1080,1140 1060,1180 C1040,1220 1010,1260 990,1280 L1000,1340 L1000,1380 L970,1390 L940,1370 L940,1300 C920,1260 920,1200 930,1150 L880,1080 L760,1060 C720,1060 700,1070 710,1100 L760,1110 L740,1135 C690,1130 650,1090 645,1040 Z" fill="#CD5B45" fill-rule="evenodd"/></g>
<g transform="translate(2400,3030) scale(0.19133)"><path d="M50,1610 C120,1560 200,1510 300,1495 C380,1490 460,1510 530,1560 C580,1610 610,1660 620,1720 C560,1790 470,1850 380,1905 L340,1860 C280,1850 200,1820 150,1800 L110,1790 L70,1785 L50,1775 L80,1745 L75,1690 L55,1650 L45,1625 Z" fill="#CD5B45" fill-rule="evenodd"/></g>
<g transform="translate(1930,3360) scale(0.29974)"><path d="M50,260 C60,240 90,240 120,240 C115,190 130,130 180,95 C220,70 270,65 310,80 C350,100 400,130 440,145 L435,165 L420,180 C415,220 420,250 435,265 C430,280 410,285 390,280 C360,270 330,260 300,275 L290,320 L310,325 L280,330 L270,310 L240,300 L200,295 L270,340 L230,340 C150,320 90,300 60,285 C50,280 48,270 50,260 Z" fill="#CD5B45" fill-rule="evenodd"/></g>
<g transform="translate(1930,3360) scale(0.29974)"><path d="M520,300 L560,310 C580,290 600,275 630,275 C700,270 800,280 880,300 C900,260 910,220 890,180 C860,140 820,130 790,140 C760,150 740,180 745,220 L725,215 C720,170 740,130 790,115 C860,110 920,160 930,230 C935,280 920,330 895,360 L880,380 L870,410 L830,410 C780,410 700,400 650,395 L590,380 L560,370 L530,350 Z" fill="#556B2F" fill-rule="evenodd"/></g>
<g transform="translate(1930,3360) scale(0.29974)"><path d="M1005,170 L1060,160 C1100,150 1130,130 1140,100 L1160,95 L1170,140 C1200,170 1250,190 1300,210 C1350,240 1390,250 1430,250 L1490,240 L1510,260 L1500,275 L1400,290 L1350,320 L1300,330 L1240,340 L1220,360 L1180,365 L1150,380 L1110,385 L1130,360 L1150,330 C1120,280 1090,230 1070,200 L1040,200 L1010,190 Z" fill="#CD5B45" fill-rule="evenodd"/></g>
<g transform="translate(1600,2530) scale(0.15944)"><path d="M840,440 C900,440 960,430 1000,420 C970,380 955,330 960,270 C970,200 1020,150 1100,125 C1200,110 1300,100 1400,105 C1480,110 1510,140 1500,180 C1490,220 1460,250 1430,280 C1400,320 1380,370 1340,410 L1390,455 L1350,465 L1320,440 L1290,410 L1260,440 L1300,470 L1260,475 L1240,460 L1200,460 L1150,430 L1050,430 C990,450 920,455 840,445 Z" fill="#556B2F" fill-rule="evenodd"/></g>
<g transform="translate(1600,2530) scale(0.15944)"><path d="M520,880 C530,850 560,810 600,780 L640,760 L650,700 C660,675 690,670 700,690 L710,715 C780,690 850,665 920,660 C1020,660 1090,720 1110,800 C1120,850 1115,880 1110,900 C1170,940 1210,990 1220,1040 C1225,1100 1180,1130 1080,1130 C1000,1120 900,1080 830,1055 L840,1045 C920,1075 1020,1105 1100,1110 C1170,1105 1190,1070 1185,1030 C1170,980 1120,940 1080,920 L1000,950 L950,990 L900,1015 L880,1005 L920,990 L900,970 L800,960 L760,1000 L720,1000 L700,985 L740,975 L700,950 L650,970 L600,975 L590,960 L630,950 L600,915 C560,910 530,900 520,880 Z" fill="#CD5B45" fill-rule="evenodd"/></g>
<g transform="translate(1600,2530) scale(0.15944)"><path d="M330,1340 L300,1280 L290,1240 L340,1200 L360,1140 L400,1170 L480,1180 C500,1160 540,1160 560,1180 C580,1200 570,1230 550,1250 C600,1290 650,1350 690,1420 C710,1460 720,1500 730,1520 C800,1550 900,1560 1000,1560 L1080,1560 L1090,1580 L1050,1590 C900,1590 800,1580 730,1570 L700,1570 L710,1600 L740,1610 L620,1610 L590,1600 L550,1590 L520,1575 L460,1580 L400,1600 L340,1610 L250,1620 L260,1600 L300,1590 L310,1560 C330,1500 335,1420 330,1340 Z" fill="#556B2F" fill-rule="evenodd"/></g>
<g transform="translate(1590,2800) scale(0.12755)"><path d="M230,380 C250,330 290,290 330,270 L370,240 L400,150 L460,210 L510,210 C520,170 560,145 600,145 C640,150 665,190 655,240 L630,290 C720,320 800,380 840,450 C880,520 880,600 860,650 C840,700 800,740 770,740 L830,770 L830,790 L700,790 L620,780 L600,795 L540,795 L530,770 L500,770 L470,790 L300,790 L300,770 L350,750 L410,740 C370,680 340,600 320,520 C300,480 260,460 240,440 C225,420 225,400 230,380 Z" fill="#CD5B45" fill-rule="evenodd"/></g>
<g transform="translate(1590,2800) scale(0.12755)"><path d="M100,1120 C100,1070 150,1040 200,1020 C260,1005 330,1020 400,1040 L470,1040 C560,1020 650,1020 760,1040 C850,1070 920,1120 950,1180 C980,1240 1020,1270 1100,1290 L1280,1290 L1285,1305 L1100,1320 C1000,1320 940,1300 900,1280 L860,1310 L860,1380 C850,1420 800,1430 750,1430 L680,1430 L680,1410 L740,1400 L760,1370 L740,1340 L690,1360 L620,1370 L610,1350 L650,1330 L600,1290 L500,1310 L500,1380 L480,1440 L420,1450 L400,1440 L420,1410 L440,1380 L400,1330 L380,1340 L370,1380 L290,1395 L290,1380 L320,1370 L340,1350 L330,1270 L290,1240 L230,1230 L170,1230 C130,1210 100,1170 100,1120 Z" fill="#556B2F" fill-rule="evenodd"/></g>
<g transform="translate(1580,3000) scale(0.25510)"><path d="M175,200 C180,180 210,175 250,185 C320,170 400,160 460,170 C500,180 520,210 520,250 C540,300 550,360 530,400 C520,420 490,430 460,435 L350,450 C300,455 260,450 250,430 C260,410 290,400 330,400 L400,395 L400,370 L380,350 L360,385 L340,390 L310,380 L290,385 L230,390 L185,380 L200,370 L240,370 L230,330 C200,300 185,260 175,200 Z" fill="#CD5B45" fill-rule="evenodd"/></g>
<g transform="translate(1580,3000) scale(0.25510)"><path d="M365,665 C400,655 450,650 490,650 L530,625 L535,660 C580,680 640,700 680,730 C710,780 720,830 725,880 C730,950 700,1010 640,1040 C610,1055 580,1060 555,1055 L550,1045 C600,1030 650,1000 680,950 C700,900 700,860 690,840 L650,850 L600,860 L570,870 L555,860 L600,840 L580,820 L540,820 L500,870 L480,890 L465,880 L490,860 L510,830 C480,800 450,750 420,720 C390,700 370,680 365,665 Z" fill="#556B2F" fill-rule="evenodd"/></g>
<g transform="translate(1580,3000) scale(0.25510)"><path d="M790,1250 C790,1150 850,1100 950,1095 C1000,1095 1040,1120 1050,1160 L1080,1180 C1100,1230 1120,1280 1140,1310 L1190,1340 L1210,1370 L1180,1400 L1130,1400 L1080,1390 L1070,1450 L1090,1520 L1130,1560 L1110,1575 L1060,1530 L1040,1480 L1030,1420 L960,1380 L920,1400 L900,1420 L890,1400 L910,1370 L930,1320 L870,1310 L850,1300 L880,1250 L890,1220 L960,1250 L1000,1210 L1030,1180 C1000,1150 960,1140 920,1140 C860,1150 830,1200 830,1270 C830,1320 840,1350 850,1370 L830,1380 C800,1340 790,1300 790,1250 Z" fill="#556B2F" fill-rule="evenodd"/></g>
</svg></body></html>
